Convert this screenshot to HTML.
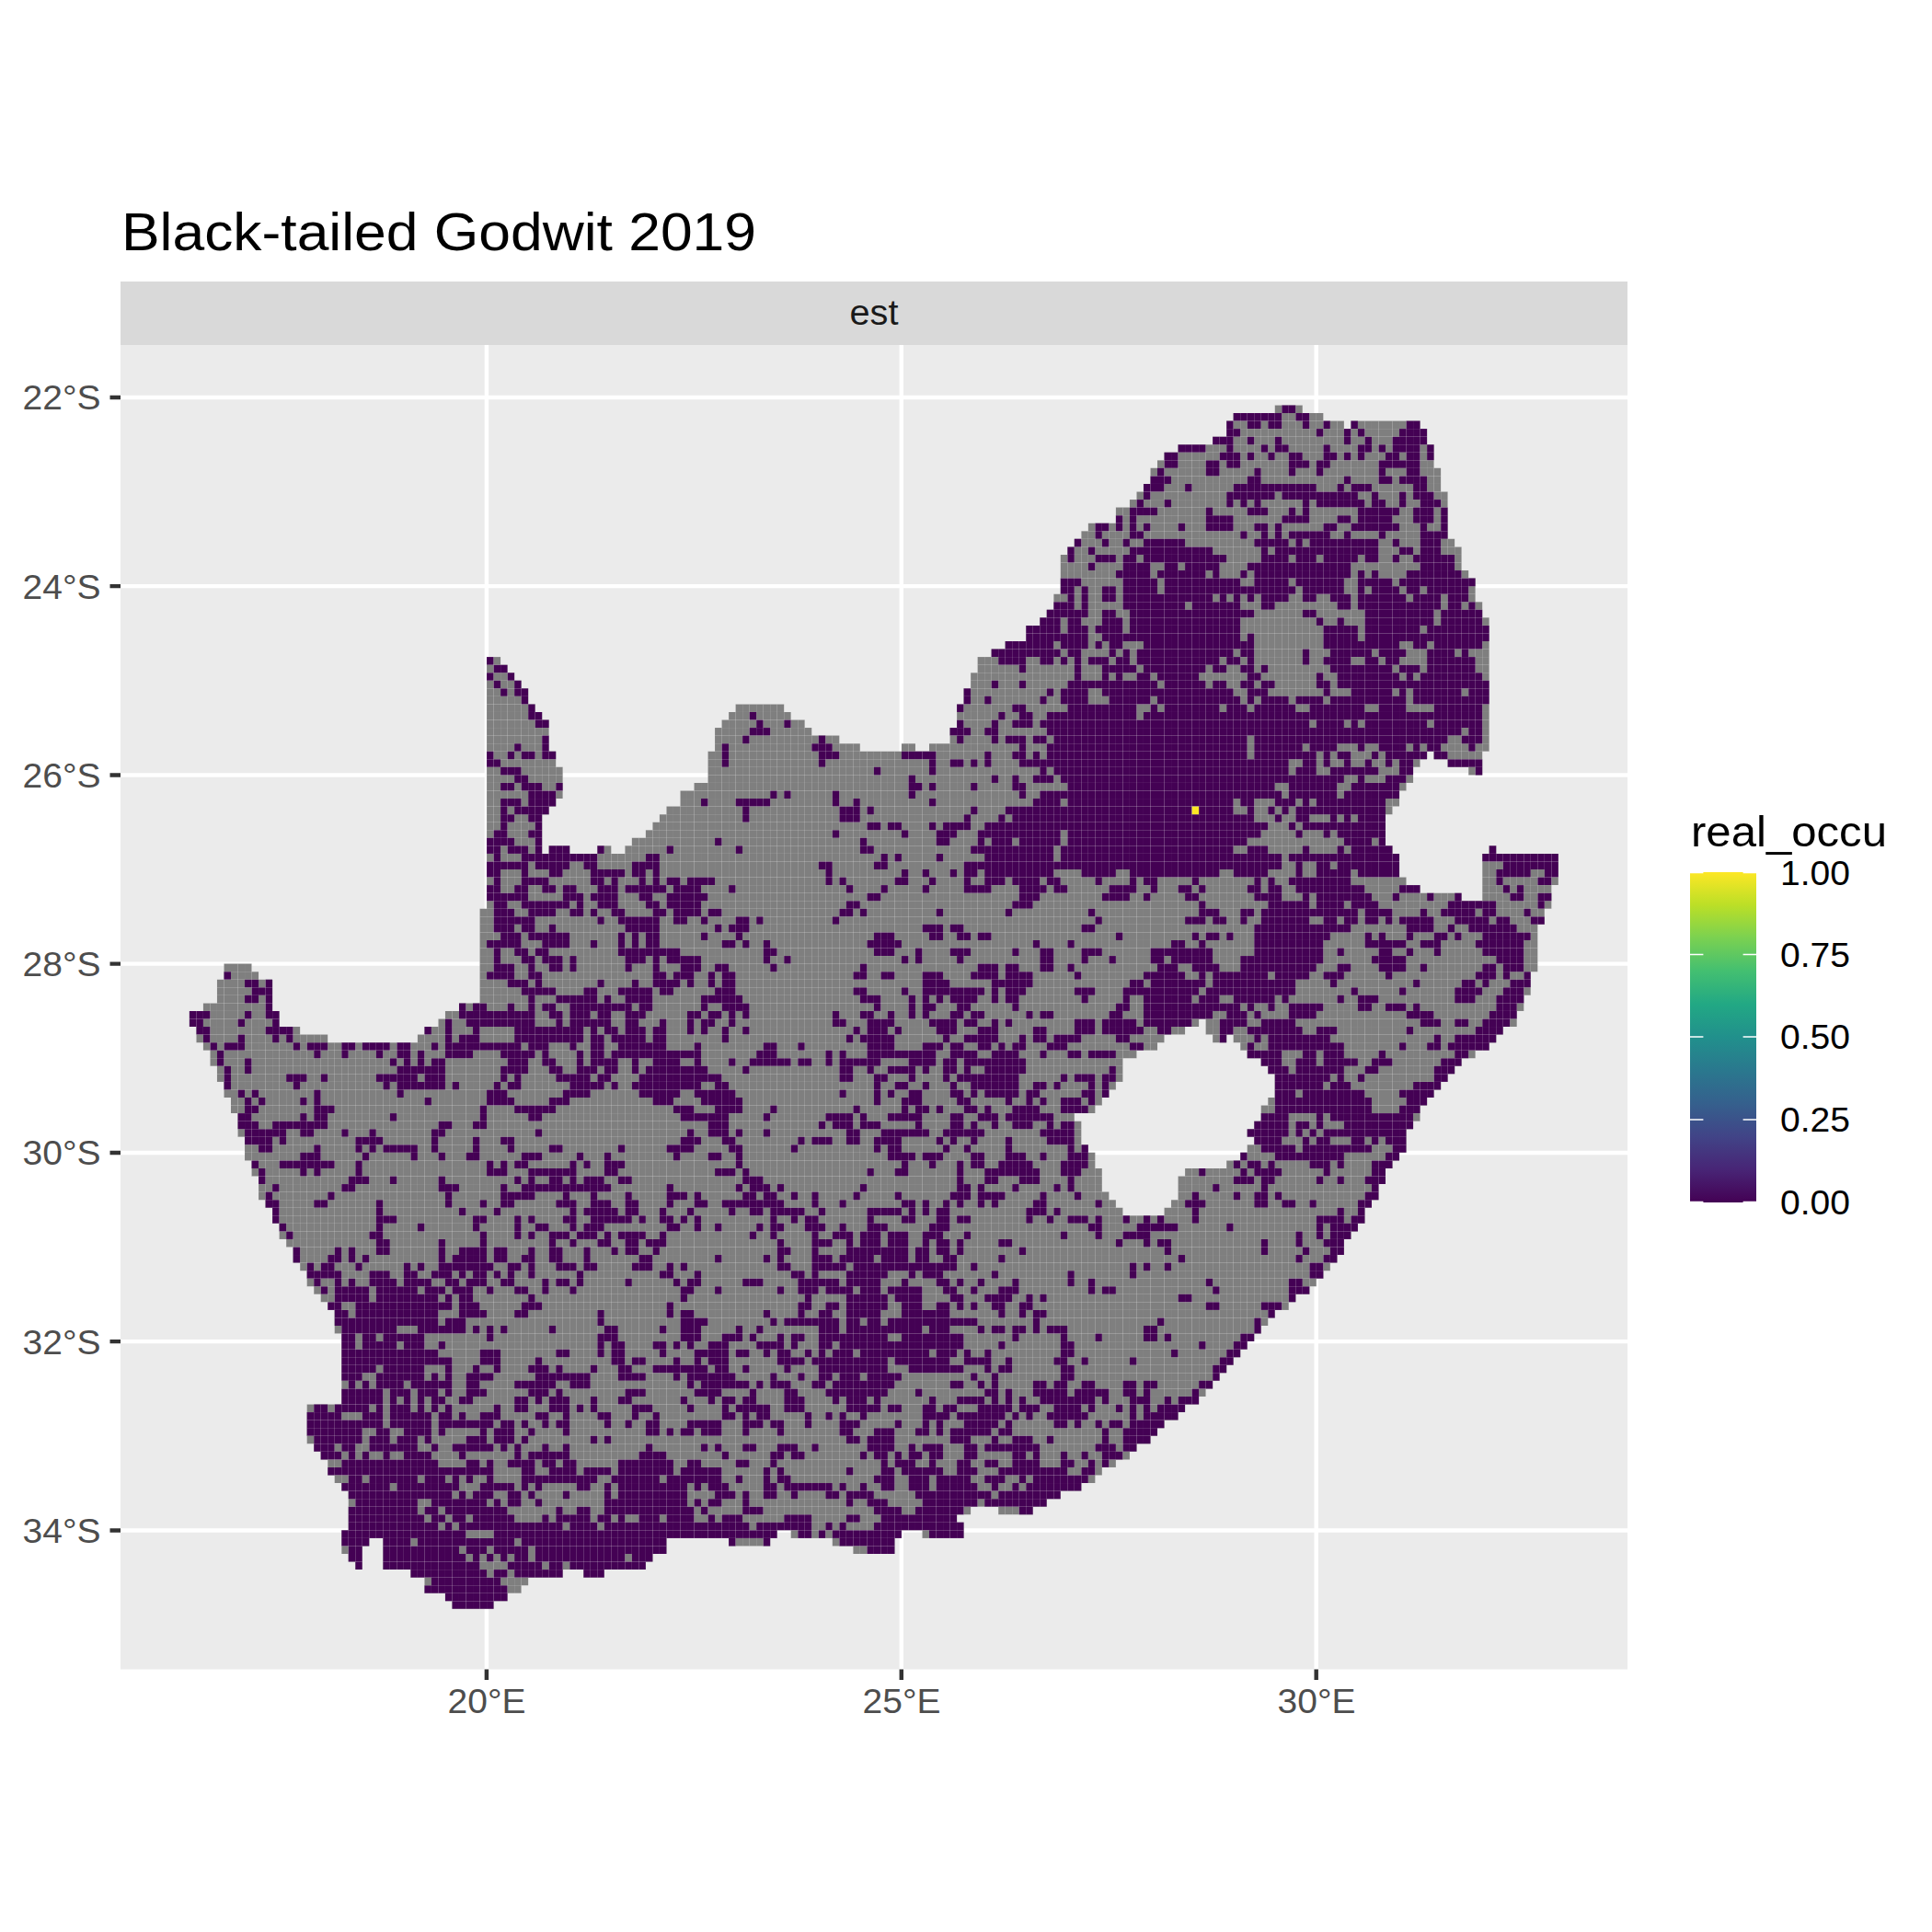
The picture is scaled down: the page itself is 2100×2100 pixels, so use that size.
<!DOCTYPE html>
<html><head><meta charset="utf-8"><title>Black-tailed Godwit 2019</title>
<style>
html,body{margin:0;padding:0;background:#fff;}
body{width:2100px;height:2100px;overflow:hidden;font-family:"Liberation Sans",sans-serif;}
svg{display:block;}
text{font-family:"Liberation Sans",sans-serif;}
</style></head><body>
<svg width="2100" height="2100" viewBox="0 0 2100 2100">
<defs>
<linearGradient id="vir" x1="0" y1="1" x2="0" y2="0">
<stop offset="0" stop-color="#440154"/><stop offset="0.1" stop-color="#482576"/><stop offset="0.2" stop-color="#414487"/><stop offset="0.3" stop-color="#35608D"/><stop offset="0.4" stop-color="#2A788E"/><stop offset="0.5" stop-color="#21908C"/><stop offset="0.6" stop-color="#22A884"/><stop offset="0.7" stop-color="#43BF71"/><stop offset="0.8" stop-color="#7AD151"/><stop offset="0.9" stop-color="#BBDF27"/><stop offset="1" stop-color="#FDE725"/>
</linearGradient>
<clipPath id="silclip"><path transform="translate(78.150 226.660) scale(7.51500 8.55167)" d="M174 25h4v1h-4zM168 26h13v1h-13zM167 27h17v1h-17zM185 27h10v1h-10zM167 28h29v1h-29zM165 29h31v1h-31zM160 30h37v1h-37zM158 31h39v1h-39zM157 32h40v1h-40zM156 33h42v1h-42zM156 34h42v1h-42zM155 35h43v1h-43zM154 36h45v1h-45zM153 37h46v1h-46zM151 38h48v1h-48zM151 39h48v1h-48zM147 40h52v1h-52zM146 41h53v1h-53zM145 42h55v1h-55zM144 43h57v1h-57zM143 44h58v1h-58zM143 45h58v1h-58zM143 46h59v1h-59zM143 47h60v1h-60zM143 48h60v1h-60zM142 49h61v1h-61zM142 50h62v1h-62zM141 51h63v1h-63zM140 52h65v1h-65zM138 53h67v1h-67zM138 54h67v1h-67zM135 55h70v1h-70zM133 56h72v1h-72zM60 57h2v1h-2zM131 57h74v1h-74zM60 58h3v1h-3zM131 58h74v1h-74zM60 59h4v1h-4zM130 59h75v1h-75zM60 60h5v1h-5zM130 60h75v1h-75zM60 61h6v1h-6zM129 61h76v1h-76zM60 62h6v1h-6zM129 62h76v1h-76zM60 63h7v1h-7zM96 63h7v1h-7zM128 63h77v1h-77zM60 64h8v1h-8zM95 64h9v1h-9zM128 64h77v1h-77zM60 65h9v1h-9zM94 65h12v1h-12zM128 65h77v1h-77zM60 66h9v1h-9zM93 66h14v1h-14zM127 66h78v1h-78zM60 67h9v1h-9zM93 67h18v1h-18zM127 67h78v1h-78zM60 68h9v1h-9zM93 68h21v1h-21zM120 68h2v1h-2zM124 68h81v1h-81zM60 69h10v1h-10zM92 69h104v1h-104zM197 69h7v1h-7zM60 70h10v1h-10zM92 70h103v1h-103zM199 70h5v1h-5zM60 71h11v1h-11zM92 71h102v1h-102zM202 71h2v1h-2zM60 72h11v1h-11zM92 72h102v1h-102zM60 73h11v1h-11zM90 73h103v1h-103zM60 74h11v1h-11zM88 74h104v1h-104zM60 75h10v1h-10zM88 75h104v1h-104zM60 76h9v1h-9zM86 76h105v1h-105zM60 77h8v1h-8zM85 77h105v1h-105zM60 78h8v1h-8zM84 78h106v1h-106zM60 79h8v1h-8zM83 79h107v1h-107zM60 80h8v1h-8zM81 80h109v1h-109zM60 81h8v1h-8zM69 81h3v1h-3zM76 81h2v1h-2zM80 81h111v1h-111zM205 81h1v1h-1zM60 82h132v1h-132zM204 82h11v1h-11zM60 83h132v1h-132zM204 83h11v1h-11zM60 84h132v1h-132zM204 84h11v1h-11zM60 85h133v1h-133zM204 85h11v1h-11zM60 86h135v1h-135zM204 86h10v1h-10zM60 87h141v1h-141zM204 87h10v1h-10zM60 88h154v1h-154zM59 89h154v1h-154zM59 90h154v1h-154zM59 91h153v1h-153zM59 92h153v1h-153zM59 93h153v1h-153zM59 94h153v1h-153zM59 95h153v1h-153zM22 96h4v1h-4zM59 96h153v1h-153zM22 97h5v1h-5zM59 97h152v1h-152zM21 98h8v1h-8zM59 98h152v1h-152zM21 99h8v1h-8zM59 99h152v1h-152zM21 100h8v1h-8zM59 100h151v1h-151zM19 101h10v1h-10zM56 101h154v1h-154zM17 102h13v1h-13zM54 102h155v1h-155zM17 103h13v1h-13zM53 103h110v1h-110zM164 103h45v1h-45zM18 104h15v1h-15zM51 104h110v1h-110zM164 104h43v1h-43zM18 105h19v1h-19zM50 105h108v1h-108zM165 105h2v1h-2zM168 105h38v1h-38zM19 106h138v1h-138zM169 106h36v1h-36zM20 107h134v1h-134zM170 107h33v1h-33zM20 108h132v1h-132zM172 108h29v1h-29zM21 109h131v1h-131zM173 109h27v1h-27zM21 110h131v1h-131zM174 110h25v1h-25zM22 111h129v1h-129zM174 111h24v1h-24zM22 112h128v1h-128zM174 112h23v1h-23zM23 113h126v1h-126zM173 113h23v1h-23zM23 114h125v1h-125zM172 114h23v1h-23zM24 115h121v1h-121zM172 115h23v1h-23zM24 116h122v1h-122zM171 116h23v1h-23zM24 117h122v1h-122zM170 117h23v1h-23zM25 118h121v1h-121zM171 118h22v1h-22zM25 119h122v1h-122zM170 119h23v1h-23zM25 120h123v1h-123zM169 120h23v1h-23zM26 121h122v1h-122zM167 121h24v1h-24zM26 122h123v1h-123zM161 122h29v1h-29zM27 123h122v1h-122zM160 123h30v1h-30zM27 124h122v1h-122zM160 124h29v1h-29zM27 125h123v1h-123zM160 125h29v1h-29zM28 126h123v1h-123zM159 126h29v1h-29zM29 127h123v1h-123zM158 127h29v1h-29zM29 128h158v1h-158zM30 129h156v1h-156zM30 130h155v1h-155zM31 131h153v1h-153zM32 132h152v1h-152zM32 133h151v1h-151zM33 134h149v1h-149zM34 135h147v1h-147zM34 136h146v1h-146zM35 137h144v1h-144zM36 138h141v1h-141zM37 139h139v1h-139zM38 140h136v1h-136zM38 141h135v1h-135zM38 142h134v1h-134zM39 143h132v1h-132zM39 144h131v1h-131zM39 145h130v1h-130zM39 146h129v1h-129zM39 147h128v1h-128zM39 148h127v1h-127zM39 149h126v1h-126zM39 150h125v1h-125zM39 151h124v1h-124zM34 152h127v1h-127zM34 153h126v1h-126zM34 154h124v1h-124zM34 155h123v1h-123zM34 156h122v1h-122zM35 157h119v1h-119zM36 158h117v1h-117zM37 159h114v1h-114zM37 160h112v1h-112zM38 161h110v1h-110zM39 162h107v1h-107zM40 163h103v1h-103zM40 164h101v1h-101zM40 165h90v1h-90zM134 165h5v1h-5zM40 166h88v1h-88zM40 167h89v1h-89zM39 168h63v1h-63zM104 168h16v1h-16zM123 168h6v1h-6zM39 169h4v1h-4zM45 169h41v1h-41zM95 169h6v1h-6zM110 169h9v1h-9zM39 170h3v1h-3zM45 170h41v1h-41zM113 170h6v1h-6zM40 171h2v1h-2zM45 171h39v1h-39zM41 172h1v1h-1zM45 172h38v1h-38zM49 173h22v1h-22zM74 173h3v1h-3zM51 174h15v1h-15zM51 175h14v1h-14zM54 176h9v1h-9zM55 177h6v1h-6z"/></clipPath>
</defs>
<rect x="0" y="0" width="2100" height="2100" fill="#FFFFFF"/>
<!-- title -->
<text id="title" x="132" y="272" font-size="57" fill="#000" textLength="690" lengthAdjust="spacingAndGlyphs">Black-tailed Godwit 2019</text>
<!-- strip -->
<rect x="131" y="306" width="1638" height="69" fill="#D9D9D9"/>
<text id="strip" x="950" y="352.5" font-size="38" fill="#1A1A1A" text-anchor="middle" textLength="53" lengthAdjust="spacingAndGlyphs">est</text>
<!-- panel -->
<rect x="131" y="375" width="1638" height="1439.5" fill="#EBEBEB"/>
<g stroke="#FFFFFF" stroke-width="4.45" fill="none">
<path d="M528.9 375V1814.5M979.8 375V1814.5M1430.7 375V1814.5"/>
<path d="M131 431.9H1769M131 637.1H1769M131 842.4H1769M131 1047.6H1769M131 1252.9H1769M131 1458.1H1769M131 1663.4H1769"/>
</g>
<!-- map -->
<g transform="translate(78.150 226.660) scale(7.51500 8.55167)">
<path fill="#7F7F7F" d="M174 25h4v1h-4zM168 26h13v1h-13zM167 27h17v1h-17zM185 27h10v1h-10zM167 28h29v1h-29zM165 29h31v1h-31zM160 30h37v1h-37zM158 31h39v1h-39zM157 32h40v1h-40zM156 33h42v1h-42zM156 34h42v1h-42zM155 35h43v1h-43zM154 36h45v1h-45zM153 37h46v1h-46zM151 38h48v1h-48zM151 39h48v1h-48zM147 40h52v1h-52zM146 41h53v1h-53zM145 42h55v1h-55zM144 43h57v1h-57zM143 44h58v1h-58zM143 45h58v1h-58zM143 46h59v1h-59zM143 47h60v1h-60zM143 48h60v1h-60zM142 49h61v1h-61zM142 50h62v1h-62zM141 51h63v1h-63zM140 52h65v1h-65zM138 53h67v1h-67zM138 54h67v1h-67zM135 55h70v1h-70zM133 56h72v1h-72zM60 57h2v1h-2zM131 57h74v1h-74zM60 58h3v1h-3zM131 58h74v1h-74zM60 59h4v1h-4zM130 59h75v1h-75zM60 60h5v1h-5zM130 60h75v1h-75zM60 61h6v1h-6zM129 61h76v1h-76zM60 62h6v1h-6zM129 62h76v1h-76zM60 63h7v1h-7zM96 63h7v1h-7zM128 63h77v1h-77zM60 64h8v1h-8zM95 64h9v1h-9zM128 64h77v1h-77zM60 65h9v1h-9zM94 65h12v1h-12zM128 65h77v1h-77zM60 66h9v1h-9zM93 66h14v1h-14zM127 66h78v1h-78zM60 67h9v1h-9zM93 67h18v1h-18zM127 67h78v1h-78zM60 68h9v1h-9zM93 68h21v1h-21zM120 68h2v1h-2zM124 68h81v1h-81zM60 69h10v1h-10zM92 69h104v1h-104zM197 69h7v1h-7zM60 70h10v1h-10zM92 70h103v1h-103zM199 70h5v1h-5zM60 71h11v1h-11zM92 71h102v1h-102zM202 71h2v1h-2zM60 72h11v1h-11zM92 72h102v1h-102zM60 73h11v1h-11zM90 73h103v1h-103zM60 74h11v1h-11zM88 74h104v1h-104zM60 75h10v1h-10zM88 75h104v1h-104zM60 76h9v1h-9zM86 76h105v1h-105zM60 77h8v1h-8zM85 77h105v1h-105zM60 78h8v1h-8zM84 78h106v1h-106zM60 79h8v1h-8zM83 79h107v1h-107zM60 80h8v1h-8zM81 80h109v1h-109zM60 81h8v1h-8zM69 81h3v1h-3zM76 81h2v1h-2zM80 81h111v1h-111zM205 81h1v1h-1zM60 82h132v1h-132zM204 82h11v1h-11zM60 83h132v1h-132zM204 83h11v1h-11zM60 84h132v1h-132zM204 84h11v1h-11zM60 85h133v1h-133zM204 85h11v1h-11zM60 86h135v1h-135zM204 86h10v1h-10zM60 87h141v1h-141zM204 87h10v1h-10zM60 88h154v1h-154zM59 89h154v1h-154zM59 90h154v1h-154zM59 91h153v1h-153zM59 92h153v1h-153zM59 93h153v1h-153zM59 94h153v1h-153zM59 95h153v1h-153zM22 96h4v1h-4zM59 96h153v1h-153zM22 97h5v1h-5zM59 97h152v1h-152zM21 98h8v1h-8zM59 98h152v1h-152zM21 99h8v1h-8zM59 99h152v1h-152zM21 100h8v1h-8zM59 100h151v1h-151zM19 101h10v1h-10zM56 101h154v1h-154zM17 102h13v1h-13zM54 102h155v1h-155zM17 103h13v1h-13zM53 103h110v1h-110zM164 103h45v1h-45zM18 104h15v1h-15zM51 104h110v1h-110zM164 104h43v1h-43zM18 105h19v1h-19zM50 105h108v1h-108zM165 105h2v1h-2zM168 105h38v1h-38zM19 106h138v1h-138zM169 106h36v1h-36zM20 107h134v1h-134zM170 107h33v1h-33zM20 108h132v1h-132zM172 108h29v1h-29zM21 109h131v1h-131zM173 109h27v1h-27zM21 110h131v1h-131zM174 110h25v1h-25zM22 111h129v1h-129zM174 111h24v1h-24zM22 112h128v1h-128zM174 112h23v1h-23zM23 113h126v1h-126zM173 113h23v1h-23zM23 114h125v1h-125zM172 114h23v1h-23zM24 115h121v1h-121zM172 115h23v1h-23zM24 116h122v1h-122zM171 116h23v1h-23zM24 117h122v1h-122zM170 117h23v1h-23zM25 118h121v1h-121zM171 118h22v1h-22zM25 119h122v1h-122zM170 119h23v1h-23zM25 120h123v1h-123zM169 120h23v1h-23zM26 121h122v1h-122zM167 121h24v1h-24zM26 122h123v1h-123zM161 122h29v1h-29zM27 123h122v1h-122zM160 123h30v1h-30zM27 124h122v1h-122zM160 124h29v1h-29zM27 125h123v1h-123zM160 125h29v1h-29zM28 126h123v1h-123zM159 126h29v1h-29zM29 127h123v1h-123zM158 127h29v1h-29zM29 128h158v1h-158zM30 129h156v1h-156zM30 130h155v1h-155zM31 131h153v1h-153zM32 132h152v1h-152zM32 133h151v1h-151zM33 134h149v1h-149zM34 135h147v1h-147zM34 136h146v1h-146zM35 137h144v1h-144zM36 138h141v1h-141zM37 139h139v1h-139zM38 140h136v1h-136zM38 141h135v1h-135zM38 142h134v1h-134zM39 143h132v1h-132zM39 144h131v1h-131zM39 145h130v1h-130zM39 146h129v1h-129zM39 147h128v1h-128zM39 148h127v1h-127zM39 149h126v1h-126zM39 150h125v1h-125zM39 151h124v1h-124zM34 152h127v1h-127zM34 153h126v1h-126zM34 154h124v1h-124zM34 155h123v1h-123zM34 156h122v1h-122zM35 157h119v1h-119zM36 158h117v1h-117zM37 159h114v1h-114zM37 160h112v1h-112zM38 161h110v1h-110zM39 162h107v1h-107zM40 163h103v1h-103zM40 164h101v1h-101zM40 165h90v1h-90zM134 165h5v1h-5zM40 166h88v1h-88zM40 167h89v1h-89zM39 168h63v1h-63zM104 168h16v1h-16zM123 168h6v1h-6zM39 169h4v1h-4zM45 169h41v1h-41zM95 169h6v1h-6zM110 169h9v1h-9zM39 170h3v1h-3zM45 170h41v1h-41zM113 170h6v1h-6zM40 171h2v1h-2zM45 171h39v1h-39zM41 172h1v1h-1zM45 172h38v1h-38zM49 173h22v1h-22zM74 173h3v1h-3zM51 174h15v1h-15zM51 175h14v1h-14zM54 176h9v1h-9zM55 177h6v1h-6z"/>
<path fill="#440154" d="M175 25h2v1h-2zM168 26h7v1h-7zM177 26h2v1h-2zM167 27h1v1h-1zM170 27h2v1h-2zM173 27h2v1h-2zM178 27h1v1h-1zM181 27h1v1h-1zM185 27h1v1h-1zM193 27h2v1h-2zM167 28h2v1h-2zM180 28h1v1h-1zM184 28h1v1h-1zM186 28h1v1h-1zM192 28h4v1h-4zM165 29h3v1h-3zM170 29h1v1h-1zM174 29h1v1h-1zM184 29h1v1h-1zM187 29h1v1h-1zM191 29h5v1h-5zM160 30h4v1h-4zM167 30h1v1h-1zM172 30h1v1h-1zM174 30h2v1h-2zM181 30h1v1h-1zM186 30h2v1h-2zM189 30h1v1h-1zM191 30h4v1h-4zM196 30h1v1h-1zM158 31h2v1h-2zM166 31h3v1h-3zM170 31h1v1h-1zM173 31h1v1h-1zM176 31h2v1h-2zM181 31h2v1h-2zM184 31h1v1h-1zM186 31h1v1h-1zM190 31h2v1h-2zM193 31h2v1h-2zM196 31h1v1h-1zM158 32h2v1h-2zM164 32h2v1h-2zM167 32h2v1h-2zM176 32h3v1h-3zM180 32h2v1h-2zM189 32h6v1h-6zM157 33h1v1h-1zM164 33h2v1h-2zM171 33h1v1h-1zM176 33h1v1h-1zM180 33h1v1h-1zM189 33h1v1h-1zM193 33h2v1h-2zM156 34h3v1h-3zM170 34h2v1h-2zM184 34h1v1h-1zM189 34h2v1h-2zM192 34h4v1h-4zM155 35h3v1h-3zM161 35h1v1h-1zM168 35h12v1h-12zM183 35h1v1h-1zM185 35h3v1h-3zM194 35h2v1h-2zM155 36h1v1h-1zM167 36h7v1h-7zM175 36h11v1h-11zM188 36h1v1h-1zM192 36h1v1h-1zM194 36h3v1h-3zM154 37h1v1h-1zM158 37h1v1h-1zM167 37h1v1h-1zM169 37h1v1h-1zM171 37h1v1h-1zM178 37h1v1h-1zM180 37h7v1h-7zM188 37h2v1h-2zM192 37h1v1h-1zM195 37h3v1h-3zM153 38h4v1h-4zM164 38h1v1h-1zM170 38h3v1h-3zM176 38h1v1h-1zM178 38h1v1h-1zM186 38h6v1h-6zM194 38h3v1h-3zM198 38h1v1h-1zM151 39h1v1h-1zM153 39h1v1h-1zM164 39h4v1h-4zM175 39h4v1h-4zM183 39h2v1h-2zM186 39h5v1h-5zM194 39h3v1h-3zM198 39h1v1h-1zM148 40h2v1h-2zM151 40h1v1h-1zM153 40h1v1h-1zM155 40h1v1h-1zM160 40h1v1h-1zM164 40h4v1h-4zM171 40h2v1h-2zM174 40h1v1h-1zM181 40h2v1h-2zM185 40h7v1h-7zM195 40h1v1h-1zM198 40h1v1h-1zM148 41h1v1h-1zM153 41h2v1h-2zM169 41h1v1h-1zM172 41h1v1h-1zM174 41h1v1h-1zM176 41h6v1h-6zM184 41h1v1h-1zM189 41h1v1h-1zM195 41h4v1h-4zM145 42h1v1h-1zM149 42h1v1h-1zM152 42h1v1h-1zM155 42h6v1h-6zM171 42h5v1h-5zM177 42h1v1h-1zM179 42h10v1h-10zM191 42h1v1h-1zM195 42h3v1h-3zM144 43h1v1h-1zM147 43h1v1h-1zM153 43h12v1h-12zM172 43h1v1h-1zM174 43h15v1h-15zM192 43h2v1h-2zM195 43h3v1h-3zM144 44h1v1h-1zM148 44h3v1h-3zM152 44h2v1h-2zM155 44h12v1h-12zM172 44h4v1h-4zM177 44h3v1h-3zM181 44h5v1h-5zM187 44h2v1h-2zM191 44h1v1h-1zM194 44h6v1h-6zM147 45h1v1h-1zM152 45h4v1h-4zM158 45h2v1h-2zM161 45h5v1h-5zM170 45h15v1h-15zM195 45h5v1h-5zM151 46h5v1h-5zM157 46h7v1h-7zM165 46h1v1h-1zM169 46h1v1h-1zM171 46h14v1h-14zM186 46h1v1h-1zM188 46h1v1h-1zM193 46h8v1h-8zM143 47h3v1h-3zM152 47h5v1h-5zM158 47h11v1h-11zM171 47h5v1h-5zM177 47h7v1h-7zM186 47h5v1h-5zM192 47h11v1h-11zM143 48h2v1h-2zM146 48h1v1h-1zM149 48h2v1h-2zM152 48h5v1h-5zM158 48h19v1h-19zM178 48h6v1h-6zM186 48h1v1h-1zM188 48h4v1h-4zM193 48h2v1h-2zM196 48h6v1h-6zM144 49h1v1h-1zM146 49h1v1h-1zM149 49h2v1h-2zM152 49h13v1h-13zM166 49h1v1h-1zM168 49h1v1h-1zM170 49h1v1h-1zM172 49h4v1h-4zM178 49h2v1h-2zM182 49h3v1h-3zM186 49h7v1h-7zM194 49h4v1h-4zM199 49h3v1h-3zM142 50h3v1h-3zM146 50h1v1h-1zM152 50h9v1h-9zM162 50h7v1h-7zM172 50h2v1h-2zM183 50h2v1h-2zM186 50h12v1h-12zM199 50h2v1h-2zM202 50h1v1h-1zM141 51h6v1h-6zM149 51h2v1h-2zM153 51h18v1h-18zM178 51h2v1h-2zM187 51h10v1h-10zM198 51h6v1h-6zM140 52h3v1h-3zM144 52h2v1h-2zM149 52h3v1h-3zM153 52h16v1h-16zM180 52h1v1h-1zM183 52h1v1h-1zM187 52h10v1h-10zM198 52h6v1h-6zM138 53h5v1h-5zM144 53h3v1h-3zM148 53h4v1h-4zM153 53h16v1h-16zM181 53h5v1h-5zM187 53h8v1h-8zM196 53h9v1h-9zM138 54h9v1h-9zM149 54h20v1h-20zM170 54h1v1h-1zM181 54h5v1h-5zM187 54h18v1h-18zM135 55h7v1h-7zM143 55h4v1h-4zM148 55h1v1h-1zM150 55h2v1h-2zM155 55h16v1h-16zM181 55h11v1h-11zM194 55h2v1h-2zM197 55h7v1h-7zM133 56h10v1h-10zM144 56h2v1h-2zM150 56h1v1h-1zM152 56h1v1h-1zM154 56h14v1h-14zM169 56h2v1h-2zM178 56h1v1h-1zM182 56h6v1h-6zM189 56h4v1h-4zM196 56h4v1h-4zM201 56h1v1h-1zM60 57h1v1h-1zM134 57h4v1h-4zM140 57h2v1h-2zM143 57h1v1h-1zM145 57h1v1h-1zM147 57h3v1h-3zM151 57h2v1h-2zM154 57h12v1h-12zM167 57h2v1h-2zM170 57h1v1h-1zM178 57h1v1h-1zM181 57h4v1h-4zM187 57h2v1h-2zM190 57h2v1h-2zM196 57h7v1h-7zM61 58h2v1h-2zM137 58h1v1h-1zM145 58h1v1h-1zM149 58h5v1h-5zM155 58h9v1h-9zM165 58h2v1h-2zM169 58h2v1h-2zM172 58h1v1h-1zM182 58h9v1h-9zM192 58h3v1h-3zM196 58h7v1h-7zM60 59h1v1h-1zM63 59h1v1h-1zM145 59h1v1h-1zM149 59h1v1h-1zM151 59h1v1h-1zM154 59h2v1h-2zM157 59h6v1h-6zM170 59h2v1h-2zM180 59h1v1h-1zM183 59h9v1h-9zM193 59h1v1h-1zM195 59h9v1h-9zM61 60h1v1h-1zM64 60h1v1h-1zM133 60h1v1h-1zM137 60h1v1h-1zM144 60h13v1h-13zM158 60h6v1h-6zM165 60h2v1h-2zM169 60h2v1h-2zM172 60h2v1h-2zM180 60h2v1h-2zM183 60h22v1h-22zM62 61h1v1h-1zM64 61h2v1h-2zM129 61h1v1h-1zM141 61h1v1h-1zM143 61h4v1h-4zM149 61h19v1h-19zM170 61h3v1h-3zM181 61h1v1h-1zM185 61h6v1h-6zM192 61h1v1h-1zM194 61h7v1h-7zM202 61h3v1h-3zM65 62h1v1h-1zM129 62h1v1h-1zM132 62h1v1h-1zM140 62h1v1h-1zM143 62h4v1h-4zM150 62h6v1h-6zM157 62h12v1h-12zM170 62h1v1h-1zM172 62h4v1h-4zM177 62h4v1h-4zM182 62h11v1h-11zM194 62h11v1h-11zM66 63h1v1h-1zM128 63h1v1h-1zM136 63h2v1h-2zM144 63h10v1h-10zM156 63h1v1h-1zM158 63h8v1h-8zM167 63h3v1h-3zM171 63h6v1h-6zM179 63h8v1h-8zM189 63h4v1h-4zM197 63h7v1h-7zM66 64h2v1h-2zM98 64h1v1h-1zM134 64h1v1h-1zM137 64h2v1h-2zM141 64h13v1h-13zM155 64h49v1h-49zM67 65h2v1h-2zM99 65h1v1h-1zM103 65h1v1h-1zM128 65h1v1h-1zM133 65h1v1h-1zM136 65h3v1h-3zM140 65h39v1h-39zM180 65h4v1h-4zM185 65h1v1h-1zM187 65h9v1h-9zM197 65h7v1h-7zM98 66h3v1h-3zM127 66h3v1h-3zM132 66h2v1h-2zM141 66h60v1h-60zM202 66h2v1h-2zM68 67h1v1h-1zM97 67h1v1h-1zM108 67h1v1h-1zM128 67h1v1h-1zM133 67h1v1h-1zM135 67h3v1h-3zM139 67h2v1h-2zM142 67h28v1h-28zM171 67h28v1h-28zM201 67h3v1h-3zM64 68h1v1h-1zM68 68h1v1h-1zM94 68h1v1h-1zM107 68h3v1h-3zM137 68h1v1h-1zM141 68h29v1h-29zM171 68h7v1h-7zM179 68h4v1h-4zM186 68h1v1h-1zM189 68h4v1h-4zM194 68h1v1h-1zM196 68h2v1h-2zM202 68h1v1h-1zM60 69h1v1h-1zM63 69h1v1h-1zM65 69h2v1h-2zM68 69h2v1h-2zM94 69h1v1h-1zM108 69h3v1h-3zM120 69h5v1h-5zM132 69h1v1h-1zM136 69h2v1h-2zM139 69h1v1h-1zM141 69h29v1h-29zM171 69h9v1h-9zM181 69h1v1h-1zM183 69h2v1h-2zM188 69h1v1h-1zM190 69h6v1h-6zM197 69h2v1h-2zM60 70h2v1h-2zM94 70h1v1h-1zM108 70h1v1h-1zM124 70h1v1h-1zM127 70h2v1h-2zM130 70h1v1h-1zM132 70h1v1h-1zM137 70h39v1h-39zM178 70h2v1h-2zM181 70h1v1h-1zM184 70h1v1h-1zM187 70h1v1h-1zM190 70h1v1h-1zM192 70h2v1h-2zM199 70h5v1h-5zM62 71h3v1h-3zM116 71h1v1h-1zM124 71h1v1h-1zM140 71h1v1h-1zM142 71h34v1h-34zM177 71h3v1h-3zM182 71h7v1h-7zM192 71h2v1h-2zM203 71h1v1h-1zM64 72h2v1h-2zM121 72h1v1h-1zM133 72h1v1h-1zM136 72h1v1h-1zM139 72h3v1h-3zM143 72h41v1h-41zM186 72h1v1h-1zM190 72h3v1h-3zM62 73h2v1h-2zM65 73h3v1h-3zM70 73h1v1h-1zM121 73h2v1h-2zM124 73h1v1h-1zM130 73h1v1h-1zM136 73h2v1h-2zM144 73h30v1h-30zM176 73h7v1h-7zM185 73h7v1h-7zM66 74h4v1h-4zM101 74h1v1h-1zM103 74h1v1h-1zM110 74h1v1h-1zM121 74h1v1h-1zM137 74h1v1h-1zM140 74h35v1h-35zM176 74h7v1h-7zM184 74h8v1h-8zM62 75h3v1h-3zM66 75h4v1h-4zM91 75h1v1h-1zM96 75h5v1h-5zM110 75h1v1h-1zM113 75h1v1h-1zM124 75h1v1h-1zM139 75h4v1h-4zM144 75h24v1h-24zM169 75h2v1h-2zM174 75h3v1h-3zM178 75h1v1h-1zM180 75h10v1h-10zM62 76h1v1h-1zM64 76h5v1h-5zM97 76h1v1h-1zM111 76h3v1h-3zM115 76h1v1h-1zM130 76h1v1h-1zM135 76h27v1h-27zM163 76h5v1h-5zM170 76h1v1h-1zM173 76h1v1h-1zM175 76h1v1h-1zM177 76h13v1h-13zM62 77h2v1h-2zM66 77h2v1h-2zM97 77h1v1h-1zM111 77h3v1h-3zM129 77h1v1h-1zM134 77h1v1h-1zM136 77h35v1h-35zM174 77h1v1h-1zM177 77h2v1h-2zM182 77h1v1h-1zM184 77h1v1h-1zM186 77h4v1h-4zM62 78h1v1h-1zM67 78h1v1h-1zM115 78h2v1h-2zM118 78h2v1h-2zM124 78h1v1h-1zM126 78h4v1h-4zM132 78h41v1h-41zM176 78h1v1h-1zM178 78h12v1h-12zM61 79h2v1h-2zM66 79h2v1h-2zM110 79h1v1h-1zM120 79h1v1h-1zM125 79h3v1h-3zM131 79h12v1h-12zM144 79h28v1h-28zM177 79h1v1h-1zM181 79h1v1h-1zM183 79h7v1h-7zM60 80h4v1h-4zM67 80h1v1h-1zM93 80h1v1h-1zM114 80h1v1h-1zM125 80h2v1h-2zM131 80h1v1h-1zM133 80h3v1h-3zM137 80h6v1h-6zM144 80h26v1h-26zM184 80h4v1h-4zM189 80h1v1h-1zM60 81h2v1h-2zM63 81h3v1h-3zM67 81h1v1h-1zM69 81h3v1h-3zM76 81h1v1h-1zM86 81h1v1h-1zM96 81h1v1h-1zM114 81h2v1h-2zM130 81h12v1h-12zM143 81h25v1h-25zM170 81h3v1h-3zM178 81h1v1h-1zM183 81h1v1h-1zM185 81h6v1h-6zM205 81h1v1h-1zM61 82h1v1h-1zM65 82h11v1h-11zM83 82h2v1h-2zM117 82h1v1h-1zM119 82h1v1h-1zM125 82h1v1h-1zM132 82h10v1h-10zM143 82h32v1h-32zM176 82h16v1h-16zM204 82h11v1h-11zM60 83h6v1h-6zM67 83h5v1h-5zM74 83h2v1h-2zM81 83h4v1h-4zM108 83h2v1h-2zM116 83h2v1h-2zM129 83h46v1h-46zM177 83h1v1h-1zM180 83h2v1h-2zM183 83h9v1h-9zM207 83h8v1h-8zM60 84h2v1h-2zM65 84h1v1h-1zM69 84h2v1h-2zM75 84h5v1h-5zM81 84h2v1h-2zM84 84h1v1h-1zM109 84h1v1h-1zM120 84h1v1h-1zM123 84h1v1h-1zM127 84h1v1h-1zM129 84h2v1h-2zM132 84h10v1h-10zM146 84h5v1h-5zM153 84h13v1h-13zM168 84h5v1h-5zM177 84h1v1h-1zM180 84h5v1h-5zM186 84h6v1h-6zM206 84h5v1h-5zM213 84h2v1h-2zM61 85h1v1h-1zM65 85h4v1h-4zM75 85h2v1h-2zM78 85h1v1h-1zM82 85h1v1h-1zM84 85h1v1h-1zM86 85h2v1h-2zM89 85h4v1h-4zM109 85h1v1h-1zM111 85h1v1h-1zM119 85h2v1h-2zM124 85h1v1h-1zM129 85h1v1h-1zM132 85h3v1h-3zM136 85h4v1h-4zM141 85h2v1h-2zM148 85h1v1h-1zM153 85h1v1h-1zM155 85h2v1h-2zM162 85h1v1h-1zM171 85h1v1h-1zM173 85h1v1h-1zM176 85h9v1h-9zM206 85h1v1h-1zM212 85h2v1h-2zM60 86h2v1h-2zM64 86h2v1h-2zM68 86h2v1h-2zM71 86h2v1h-2zM76 86h3v1h-3zM80 86h6v1h-6zM87 86h4v1h-4zM95 86h1v1h-1zM112 86h1v1h-1zM117 86h1v1h-1zM123 86h1v1h-1zM129 86h4v1h-4zM137 86h4v1h-4zM142 86h2v1h-2zM150 86h4v1h-4zM156 86h1v1h-1zM160 86h2v1h-2zM163 86h1v1h-1zM170 86h2v1h-2zM173 86h2v1h-2zM177 86h10v1h-10zM192 86h3v1h-3zM207 86h1v1h-1zM209 86h1v1h-1zM60 87h6v1h-6zM71 87h3v1h-3zM75 87h4v1h-4zM82 87h2v1h-2zM86 87h6v1h-6zM115 87h2v1h-2zM137 87h3v1h-3zM149 87h4v1h-4zM155 87h1v1h-1zM161 87h2v1h-2zM171 87h4v1h-4zM178 87h1v1h-1zM180 87h8v1h-8zM191 87h1v1h-1zM196 87h1v1h-1zM200 87h1v1h-1zM208 87h2v1h-2zM212 87h2v1h-2zM61 88h2v1h-2zM65 88h7v1h-7zM73 88h1v1h-1zM76 88h3v1h-3zM83 88h2v1h-2zM86 88h5v1h-5zM112 88h2v1h-2zM136 88h3v1h-3zM163 88h1v1h-1zM173 88h6v1h-6zM180 88h4v1h-4zM185 88h4v1h-4zM199 88h7v1h-7zM212 88h1v1h-1zM61 89h3v1h-3zM66 89h4v1h-4zM72 89h2v1h-2zM75 89h1v1h-1zM78 89h2v1h-2zM84 89h2v1h-2zM87 89h4v1h-4zM92 89h2v1h-2zM111 89h2v1h-2zM114 89h1v1h-1zM125 89h1v1h-1zM135 89h1v1h-1zM147 89h1v1h-1zM163 89h3v1h-3zM169 89h2v1h-2zM172 89h14v1h-14zM187 89h4v1h-4zM195 89h1v1h-1zM198 89h5v1h-5zM204 89h2v1h-2zM210 89h1v1h-1zM61 90h6v1h-6zM76 90h1v1h-1zM79 90h6v1h-6zM87 90h2v1h-2zM91 90h1v1h-1zM96 90h2v1h-2zM99 90h1v1h-1zM110 90h1v1h-1zM148 90h1v1h-1zM161 90h3v1h-3zM165 90h2v1h-2zM169 90h1v1h-1zM172 90h7v1h-7zM181 90h2v1h-2zM184 90h2v1h-2zM187 90h2v1h-2zM190 90h1v1h-1zM192 90h5v1h-5zM200 90h5v1h-5zM206 90h2v1h-2zM211 90h2v1h-2zM61 91h3v1h-3zM65 91h2v1h-2zM69 91h1v1h-1zM80 91h5v1h-5zM93 91h1v1h-1zM95 91h3v1h-3zM123 91h3v1h-3zM127 91h2v1h-2zM146 91h2v1h-2zM171 91h14v1h-14zM193 91h4v1h-4zM199 91h1v1h-1zM202 91h7v1h-7zM62 92h3v1h-3zM66 92h6v1h-6zM79 92h1v1h-1zM81 92h1v1h-1zM83 92h2v1h-2zM91 92h1v1h-1zM96 92h1v1h-1zM116 92h3v1h-3zM124 92h2v1h-2zM128 92h2v1h-2zM131 92h2v1h-2zM151 92h1v1h-1zM162 92h1v1h-1zM164 92h2v1h-2zM167 92h1v1h-1zM171 92h11v1h-11zM187 92h1v1h-1zM189 92h1v1h-1zM193 92h1v1h-1zM197 92h2v1h-2zM200 92h1v1h-1zM204 92h7v1h-7zM60 93h5v1h-5zM68 93h4v1h-4zM75 93h1v1h-1zM79 93h1v1h-1zM81 93h1v1h-1zM83 93h2v1h-2zM94 93h2v1h-2zM97 93h1v1h-1zM100 93h1v1h-1zM115 93h5v1h-5zM139 93h1v1h-1zM144 93h1v1h-1zM159 93h2v1h-2zM163 93h1v1h-1zM171 93h10v1h-10zM187 93h6v1h-6zM195 93h3v1h-3zM203 93h7v1h-7zM61 94h1v1h-1zM64 94h2v1h-2zM67 94h2v1h-2zM79 94h9v1h-9zM100 94h2v1h-2zM116 94h3v1h-3zM122 94h1v1h-1zM127 94h3v1h-3zM136 94h1v1h-1zM140 94h2v1h-2zM146 94h3v1h-3zM156 94h9v1h-9zM171 94h10v1h-10zM183 94h1v1h-1zM189 94h2v1h-2zM193 94h1v1h-1zM197 94h1v1h-1zM204 94h6v1h-6zM61 95h1v1h-1zM65 95h2v1h-2zM68 95h3v1h-3zM72 95h1v1h-1zM80 95h3v1h-3zM84 95h1v1h-1zM86 95h5v1h-5zM100 95h1v1h-1zM103 95h1v1h-1zM120 95h1v1h-1zM122 95h1v1h-1zM128 95h1v1h-1zM140 95h2v1h-2zM146 95h1v1h-1zM150 95h1v1h-1zM156 95h2v1h-2zM159 95h6v1h-6zM169 95h12v1h-12zM188 95h5v1h-5zM206 95h4v1h-4zM61 96h3v1h-3zM66 96h1v1h-1zM69 96h2v1h-2zM72 96h1v1h-1zM80 96h1v1h-1zM84 96h1v1h-1zM88 96h3v1h-3zM93 96h2v1h-2zM101 96h1v1h-1zM114 96h1v1h-1zM131 96h3v1h-3zM135 96h2v1h-2zM140 96h2v1h-2zM144 96h1v1h-1zM157 96h3v1h-3zM162 96h4v1h-4zM169 96h11v1h-11zM183 96h2v1h-2zM189 96h4v1h-4zM195 96h1v1h-1zM204 96h2v1h-2zM207 96h3v1h-3zM22 97h1v1h-1zM60 97h4v1h-4zM66 97h2v1h-2zM84 97h2v1h-2zM87 97h3v1h-3zM92 97h1v1h-1zM94 97h2v1h-2zM113 97h2v1h-2zM117 97h2v1h-2zM123 97h3v1h-3zM130 97h4v1h-4zM135 97h4v1h-4zM145 97h1v1h-1zM155 97h6v1h-6zM163 97h1v1h-1zM165 97h8v1h-8zM174 97h5v1h-5zM181 97h3v1h-3zM190 97h1v1h-1zM203 97h3v1h-3zM207 97h1v1h-1zM210 97h1v1h-1zM25 98h2v1h-2zM28 98h1v1h-1zM63 98h3v1h-3zM67 98h1v1h-1zM76 98h1v1h-1zM81 98h1v1h-1zM84 98h4v1h-4zM89 98h1v1h-1zM92 98h1v1h-1zM94 98h2v1h-2zM123 98h4v1h-4zM133 98h6v1h-6zM153 98h2v1h-2zM156 98h8v1h-8zM165 98h12v1h-12zM182 98h1v1h-1zM194 98h1v1h-1zM201 98h2v1h-2zM204 98h1v1h-1zM208 98h3v1h-3zM26 99h3v1h-3zM65 99h5v1h-5zM74 99h2v1h-2zM79 99h5v1h-5zM85 99h2v1h-2zM93 99h3v1h-3zM113 99h2v1h-2zM120 99h1v1h-1zM123 99h9v1h-9zM133 99h1v1h-1zM135 99h3v1h-3zM145 99h3v1h-3zM152 99h11v1h-11zM164 99h13v1h-13zM185 99h1v1h-1zM192 99h1v1h-1zM200 99h4v1h-4zM207 99h3v1h-3zM25 100h2v1h-2zM28 100h1v1h-1zM66 100h1v1h-1zM70 100h6v1h-6zM77 100h1v1h-1zM80 100h4v1h-4zM91 100h6v1h-6zM114 100h3v1h-3zM121 100h1v1h-1zM123 100h1v1h-1zM125 100h1v1h-1zM127 100h4v1h-4zM133 100h1v1h-1zM135 100h2v1h-2zM146 100h1v1h-1zM152 100h1v1h-1zM155 100h7v1h-7zM163 100h3v1h-3zM168 100h6v1h-6zM175 100h1v1h-1zM183 100h1v1h-1zM186 100h3v1h-3zM200 100h3v1h-3zM206 100h4v1h-4zM28 101h1v1h-1zM56 101h1v1h-1zM58 101h2v1h-2zM63 101h1v1h-1zM66 101h1v1h-1zM68 101h2v1h-2zM72 101h9v1h-9zM82 101h2v1h-2zM91 101h1v1h-1zM94 101h4v1h-4zM116 101h1v1h-1zM121 101h1v1h-1zM123 101h2v1h-2zM128 101h2v1h-2zM136 101h1v1h-1zM151 101h2v1h-2zM155 101h14v1h-14zM170 101h1v1h-1zM173 101h1v1h-1zM176 101h5v1h-5zM186 101h2v1h-2zM190 101h3v1h-3zM194 101h1v1h-1zM206 101h3v1h-3zM17 102h3v1h-3zM25 102h1v1h-1zM28 102h2v1h-2zM56 102h11v1h-11zM69 102h2v1h-2zM72 102h3v1h-3zM76 102h2v1h-2zM80 102h3v1h-3zM89 102h2v1h-2zM92 102h2v1h-2zM95 102h1v1h-1zM97 102h1v1h-1zM110 102h1v1h-1zM114 102h2v1h-2zM118 102h1v1h-1zM121 102h1v1h-1zM123 102h1v1h-1zM127 102h2v1h-2zM130 102h2v1h-2zM138 102h1v1h-1zM140 102h2v1h-2zM150 102h2v1h-2zM155 102h10v1h-10zM167 102h3v1h-3zM171 102h1v1h-1zM176 102h4v1h-4zM193 102h4v1h-4zM205 102h4v1h-4zM17 103h2v1h-2zM24 103h1v1h-1zM29 103h1v1h-1zM54 103h1v1h-1zM57 103h10v1h-10zM70 103h1v1h-1zM72 103h6v1h-6zM80 103h2v1h-2zM85 103h1v1h-1zM89 103h1v1h-1zM91 103h2v1h-2zM95 103h1v1h-1zM110 103h2v1h-2zM115 103h4v1h-4zM124 103h4v1h-4zM129 103h2v1h-2zM133 103h1v1h-1zM135 103h1v1h-1zM145 103h3v1h-3zM149 103h5v1h-5zM155 103h7v1h-7zM166 103h4v1h-4zM172 103h5v1h-5zM195 103h3v1h-3zM200 103h2v1h-2zM204 103h4v1h-4zM18 104h2v1h-2zM28 104h4v1h-4zM51 104h1v1h-1zM54 104h1v1h-1zM58 104h1v1h-1zM64 104h10v1h-10zM75 104h1v1h-1zM77 104h2v1h-2zM80 104h3v1h-3zM84 104h2v1h-2zM89 104h1v1h-1zM91 104h1v1h-1zM94 104h1v1h-1zM97 104h1v1h-1zM113 104h1v1h-1zM115 104h3v1h-3zM119 104h1v1h-1zM125 104h3v1h-3zM131 104h3v1h-3zM139 104h2v1h-2zM145 104h3v1h-3zM149 104h6v1h-6zM157 104h2v1h-2zM166 104h2v1h-2zM170 104h8v1h-8zM180 104h3v1h-3zM193 104h1v1h-1zM203 104h4v1h-4zM19 105h1v1h-1zM24 105h1v1h-1zM29 105h1v1h-1zM31 105h1v1h-1zM54 105h1v1h-1zM56 105h3v1h-3zM64 105h10v1h-10zM75 105h2v1h-2zM78 105h5v1h-5zM84 105h2v1h-2zM94 105h1v1h-1zM112 105h1v1h-1zM114 105h5v1h-5zM126 105h1v1h-1zM129 105h5v1h-5zM137 105h1v1h-1zM139 105h2v1h-2zM142 105h4v1h-4zM151 105h2v1h-2zM166 105h1v1h-1zM171 105h1v1h-1zM173 105h9v1h-9zM197 105h1v1h-1zM200 105h6v1h-6zM20 106h1v1h-1zM22 106h3v1h-3zM32 106h1v1h-1zM34 106h3v1h-3zM39 106h2v1h-2zM42 106h4v1h-4zM47 106h2v1h-2zM52 106h1v1h-1zM54 106h11v1h-11zM66 106h3v1h-3zM72 106h1v1h-1zM75 106h2v1h-2zM79 106h7v1h-7zM90 106h1v1h-1zM100 106h2v1h-2zM105 106h1v1h-1zM115 106h4v1h-4zM123 106h3v1h-3zM127 106h2v1h-2zM131 106h2v1h-2zM134 106h1v1h-1zM136 106h2v1h-2zM141 106h3v1h-3zM153 106h2v1h-2zM170 106h1v1h-1zM173 106h11v1h-11zM192 106h1v1h-1zM196 106h2v1h-2zM199 106h6v1h-6zM21 107h1v1h-1zM35 107h1v1h-1zM39 107h1v1h-1zM44 107h1v1h-1zM47 107h2v1h-2zM50 107h1v1h-1zM54 107h4v1h-4zM62 107h5v1h-5zM68 107h1v1h-1zM73 107h1v1h-1zM75 107h2v1h-2zM78 107h13v1h-13zM99 107h3v1h-3zM109 107h1v1h-1zM111 107h1v1h-1zM115 107h10v1h-10zM127 107h4v1h-4zM133 107h4v1h-4zM140 107h1v1h-1zM144 107h2v1h-2zM147 107h4v1h-4zM170 107h5v1h-5zM178 107h2v1h-2zM181 107h3v1h-3zM189 107h1v1h-1zM200 107h2v1h-2zM21 108h1v1h-1zM25 108h1v1h-1zM46 108h1v1h-1zM48 108h1v1h-1zM50 108h1v1h-1zM52 108h2v1h-2zM63 108h3v1h-3zM68 108h2v1h-2zM73 108h1v1h-1zM75 108h4v1h-4zM81 108h1v1h-1zM84 108h4v1h-4zM90 108h1v1h-1zM95 108h1v1h-1zM98 108h6v1h-6zM105 108h2v1h-2zM109 108h1v1h-1zM111 108h6v1h-6zM121 108h4v1h-4zM126 108h2v1h-2zM129 108h9v1h-9zM172 108h3v1h-3zM177 108h3v1h-3zM181 108h5v1h-5zM188 108h3v1h-3zM198 108h3v1h-3zM22 109h1v1h-1zM25 109h1v1h-1zM47 109h7v1h-7zM62 109h4v1h-4zM69 109h2v1h-2zM73 109h3v1h-3zM77 109h2v1h-2zM81 109h1v1h-1zM83 109h9v1h-9zM97 109h1v1h-1zM111 109h2v1h-2zM115 109h1v1h-1zM118 109h4v1h-4zM123 109h1v1h-1zM126 109h2v1h-2zM129 109h1v1h-1zM132 109h6v1h-6zM150 109h1v1h-1zM173 109h3v1h-3zM177 109h7v1h-7zM187 109h2v1h-2zM197 109h3v1h-3zM22 110h1v1h-1zM31 110h3v1h-3zM36 110h1v1h-1zM44 110h6v1h-6zM51 110h3v1h-3zM62 110h1v1h-1zM64 110h1v1h-1zM70 110h5v1h-5zM76 110h2v1h-2zM82 110h12v1h-12zM111 110h2v1h-2zM116 110h2v1h-2zM121 110h1v1h-1zM126 110h1v1h-1zM128 110h9v1h-9zM143 110h1v1h-1zM145 110h3v1h-3zM149 110h2v1h-2zM174 110h8v1h-8zM183 110h1v1h-1zM186 110h1v1h-1zM197 110h2v1h-2zM22 111h1v1h-1zM32 111h1v1h-1zM45 111h1v1h-1zM47 111h7v1h-7zM55 111h1v1h-1zM61 111h1v1h-1zM63 111h2v1h-2zM72 111h5v1h-5zM78 111h1v1h-1zM81 111h10v1h-10zM93 111h2v1h-2zM116 111h1v1h-1zM119 111h2v1h-2zM123 111h1v1h-1zM127 111h1v1h-1zM130 111h7v1h-7zM139 111h2v1h-2zM142 111h1v1h-1zM147 111h1v1h-1zM149 111h1v1h-1zM174 111h7v1h-7zM182 111h3v1h-3zM194 111h4v1h-4zM24 112h1v1h-1zM26 112h1v1h-1zM35 112h1v1h-1zM47 112h1v1h-1zM60 112h3v1h-3zM71 112h4v1h-4zM82 112h6v1h-6zM90 112h6v1h-6zM111 112h1v1h-1zM116 112h1v1h-1zM118 112h1v1h-1zM121 112h2v1h-2zM127 112h2v1h-2zM130 112h1v1h-1zM132 112h5v1h-5zM138 112h2v1h-2zM146 112h2v1h-2zM149 112h1v1h-1zM174 112h3v1h-3zM178 112h9v1h-9zM192 112h5v1h-5zM25 113h1v1h-1zM27 113h1v1h-1zM33 113h1v1h-1zM35 113h1v1h-1zM51 113h1v1h-1zM60 113h4v1h-4zM69 113h3v1h-3zM84 113h3v1h-3zM91 113h6v1h-6zM116 113h1v1h-1zM120 113h3v1h-3zM128 113h2v1h-2zM135 113h1v1h-1zM138 113h1v1h-1zM140 113h1v1h-1zM143 113h3v1h-3zM147 113h1v1h-1zM174 113h14v1h-14zM193 113h3v1h-3zM25 114h2v1h-2zM35 114h3v1h-3zM59 114h1v1h-1zM64 114h6v1h-6zM87 114h3v1h-3zM93 114h4v1h-4zM101 114h1v1h-1zM113 114h1v1h-1zM120 114h1v1h-1zM122 114h2v1h-2zM125 114h1v1h-1zM129 114h2v1h-2zM132 114h1v1h-1zM136 114h4v1h-4zM143 114h4v1h-4zM174 114h14v1h-14zM192 114h3v1h-3zM24 115h2v1h-2zM33 115h1v1h-1zM35 115h2v1h-2zM46 115h1v1h-1zM59 115h1v1h-1zM66 115h2v1h-2zM88 115h7v1h-7zM100 115h1v1h-1zM109 115h4v1h-4zM114 115h1v1h-1zM118 115h5v1h-5zM127 115h2v1h-2zM131 115h3v1h-3zM135 115h7v1h-7zM172 115h4v1h-4zM180 115h1v1h-1zM182 115h12v1h-12zM24 116h3v1h-3zM29 116h8v1h-8zM53 116h2v1h-2zM58 116h2v1h-2zM92 116h3v1h-3zM108 116h1v1h-1zM110 116h3v1h-3zM114 116h3v1h-3zM122 116h1v1h-1zM127 116h2v1h-2zM130 116h1v1h-1zM133 116h1v1h-1zM136 116h3v1h-3zM141 116h1v1h-1zM143 116h2v1h-2zM171 116h5v1h-5zM177 116h2v1h-2zM180 116h1v1h-1zM184 116h10v1h-10zM25 117h6v1h-6zM33 117h2v1h-2zM39 117h1v1h-1zM43 117h1v1h-1zM52 117h2v1h-2zM67 117h1v1h-1zM89 117h1v1h-1zM92 117h3v1h-3zM96 117h1v1h-1zM100 117h1v1h-1zM112 117h2v1h-2zM117 117h7v1h-7zM126 117h6v1h-6zM140 117h5v1h-5zM170 117h6v1h-6zM177 117h1v1h-1zM179 117h1v1h-1zM181 117h12v1h-12zM25 118h4v1h-4zM30 118h1v1h-1zM41 118h4v1h-4zM52 118h1v1h-1zM58 118h1v1h-1zM62 118h2v1h-2zM88 118h3v1h-3zM94 118h2v1h-2zM105 118h1v1h-1zM107 118h3v1h-3zM112 118h2v1h-2zM116 118h4v1h-4zM125 118h1v1h-1zM127 118h1v1h-1zM130 118h1v1h-1zM135 118h1v1h-1zM141 118h4v1h-4zM171 118h4v1h-4zM178 118h1v1h-1zM180 118h2v1h-2zM185 118h2v1h-2zM188 118h1v1h-1zM190 118h3v1h-3zM27 119h2v1h-2zM35 119h1v1h-1zM41 119h1v1h-1zM43 119h1v1h-1zM45 119h5v1h-5zM52 119h1v1h-1zM58 119h1v1h-1zM63 119h1v1h-1zM69 119h2v1h-2zM79 119h1v1h-1zM86 119h4v1h-4zM95 119h2v1h-2zM104 119h1v1h-1zM116 119h1v1h-1zM118 119h2v1h-2zM126 119h1v1h-1zM129 119h1v1h-1zM135 119h1v1h-1zM144 119h1v1h-1zM146 119h1v1h-1zM172 119h5v1h-5zM178 119h10v1h-10zM191 119h2v1h-2zM33 120h3v1h-3zM42 120h1v1h-1zM49 120h1v1h-1zM53 120h1v1h-1zM57 120h2v1h-2zM65 120h3v1h-3zM73 120h1v1h-1zM77 120h1v1h-1zM87 120h1v1h-1zM92 120h2v1h-2zM96 120h1v1h-1zM118 120h4v1h-4zM123 120h3v1h-3zM130 120h2v1h-2zM135 120h3v1h-3zM140 120h1v1h-1zM144 120h3v1h-3zM169 120h1v1h-1zM174 120h10v1h-10zM190 120h2v1h-2zM26 121h1v1h-1zM30 121h8v1h-8zM41 121h1v1h-1zM60 121h1v1h-1zM62 121h1v1h-1zM64 121h2v1h-2zM72 121h1v1h-1zM74 121h1v1h-1zM77 121h3v1h-3zM96 121h1v1h-1zM120 121h1v1h-1zM124 121h1v1h-1zM128 121h1v1h-1zM130 121h2v1h-2zM134 121h5v1h-5zM143 121h4v1h-4zM168 121h1v1h-1zM170 121h2v1h-2zM173 121h1v1h-1zM179 121h3v1h-3zM183 121h1v1h-1zM188 121h3v1h-3zM27 122h1v1h-1zM33 122h1v1h-1zM35 122h1v1h-1zM41 122h1v1h-1zM60 122h3v1h-3zM66 122h7v1h-7zM77 122h2v1h-2zM93 122h3v1h-3zM97 122h1v1h-1zM115 122h1v1h-1zM119 122h2v1h-2zM128 122h1v1h-1zM132 122h8v1h-8zM143 122h3v1h-3zM163 122h1v1h-1zM169 122h1v1h-1zM171 122h4v1h-4zM181 122h1v1h-1zM188 122h2v1h-2zM27 123h1v1h-1zM40 123h3v1h-3zM46 123h1v1h-1zM53 123h1v1h-1zM64 123h1v1h-1zM66 123h1v1h-1zM69 123h2v1h-2zM72 123h1v1h-1zM74 123h3v1h-3zM79 123h2v1h-2zM97 123h3v1h-3zM128 123h1v1h-1zM132 123h2v1h-2zM137 123h3v1h-3zM144 123h1v1h-1zM168 123h3v1h-3zM172 123h2v1h-2zM180 123h1v1h-1zM183 123h1v1h-1zM187 123h3v1h-3zM29 124h1v1h-1zM39 124h2v1h-2zM53 124h3v1h-3zM62 124h1v1h-1zM65 124h13v1h-13zM86 124h1v1h-1zM96 124h1v1h-1zM98 124h3v1h-3zM102 124h1v1h-1zM114 124h1v1h-1zM128 124h2v1h-2zM131 124h1v1h-1zM136 124h1v1h-1zM142 124h1v1h-1zM144 124h1v1h-1zM165 124h1v1h-1zM172 124h1v1h-1zM188 124h1v1h-1zM28 125h1v1h-1zM37 125h1v1h-1zM54 125h1v1h-1zM62 125h5v1h-5zM71 125h1v1h-1zM75 125h1v1h-1zM80 125h1v1h-1zM86 125h3v1h-3zM90 125h1v1h-1zM97 125h2v1h-2zM100 125h2v1h-2zM104 125h1v1h-1zM107 125h1v1h-1zM113 125h1v1h-1zM119 125h1v1h-1zM127 125h3v1h-3zM131 125h4v1h-4zM140 125h1v1h-1zM145 125h1v1h-1zM162 125h1v1h-1zM168 125h1v1h-1zM171 125h2v1h-2zM174 125h1v1h-1zM187 125h2v1h-2zM28 126h2v1h-2zM35 126h2v1h-2zM44 126h1v1h-1zM54 126h1v1h-1zM59 126h1v1h-1zM62 126h2v1h-2zM70 126h3v1h-3zM75 126h3v1h-3zM80 126h2v1h-2zM86 126h1v1h-1zM90 126h2v1h-2zM94 126h9v1h-9zM107 126h1v1h-1zM111 126h1v1h-1zM120 126h2v1h-2zM123 126h1v1h-1zM126 126h1v1h-1zM128 126h1v1h-1zM131 126h1v1h-1zM133 126h1v1h-1zM139 126h2v1h-2zM148 126h1v1h-1zM161 126h3v1h-3zM171 126h2v1h-2zM175 126h2v1h-2zM179 126h1v1h-1zM186 126h2v1h-2zM29 127h1v1h-1zM44 127h1v1h-1zM56 127h1v1h-1zM61 127h1v1h-1zM72 127h1v1h-1zM74 127h5v1h-5zM80 127h2v1h-2zM85 127h1v1h-1zM89 127h1v1h-1zM95 127h1v1h-1zM98 127h2v1h-2zM101 127h5v1h-5zM108 127h1v1h-1zM115 127h5v1h-5zM121 127h1v1h-1zM123 127h1v1h-1zM125 127h2v1h-2zM138 127h3v1h-3zM142 127h1v1h-1zM162 127h1v1h-1zM183 127h1v1h-1zM186 127h1v1h-1zM29 128h1v1h-1zM44 128h3v1h-3zM58 128h2v1h-2zM64 128h1v1h-1zM66 128h1v1h-1zM71 128h2v1h-2zM75 128h6v1h-6zM82 128h1v1h-1zM85 128h2v1h-2zM88 128h1v1h-1zM90 128h1v1h-1zM101 128h1v1h-1zM104 128h1v1h-1zM106 128h2v1h-2zM115 128h1v1h-1zM120 128h2v1h-2zM125 128h2v1h-2zM128 128h2v1h-2zM138 128h1v1h-1zM141 128h1v1h-1zM144 128h3v1h-3zM148 128h1v1h-1zM152 128h1v1h-1zM155 128h1v1h-1zM157 128h1v1h-1zM162 128h1v1h-1zM180 128h4v1h-4zM185 128h2v1h-2zM30 129h1v1h-1zM44 129h1v1h-1zM50 129h1v1h-1zM58 129h1v1h-1zM64 129h1v1h-1zM67 129h2v1h-2zM72 129h1v1h-1zM74 129h3v1h-3zM86 129h2v1h-2zM90 129h1v1h-1zM93 129h1v1h-1zM99 129h1v1h-1zM101 129h2v1h-2zM106 129h3v1h-3zM111 129h1v1h-1zM115 129h3v1h-3zM124 129h3v1h-3zM147 129h2v1h-2zM154 129h6v1h-6zM167 129h1v1h-1zM180 129h1v1h-1zM182 129h4v1h-4zM31 130h1v1h-1zM43 130h2v1h-2zM59 130h1v1h-1zM64 130h1v1h-1zM66 130h1v1h-1zM69 130h3v1h-3zM73 130h3v1h-3zM77 130h1v1h-1zM79 130h4v1h-4zM85 130h1v1h-1zM98 130h1v1h-1zM101 130h1v1h-1zM107 130h1v1h-1zM110 130h3v1h-3zM114 130h3v1h-3zM118 130h3v1h-3zM123 130h3v1h-3zM129 130h1v1h-1zM143 130h1v1h-1zM148 130h1v1h-1zM152 130h4v1h-4zM177 130h1v1h-1zM180 130h1v1h-1zM182 130h3v1h-3zM44 131h2v1h-2zM53 131h1v1h-1zM59 131h1v1h-1zM69 131h1v1h-1zM72 131h1v1h-1zM76 131h2v1h-2zM80 131h2v1h-2zM83 131h3v1h-3zM102 131h1v1h-1zM107 131h3v1h-3zM112 131h1v1h-1zM114 131h3v1h-3zM118 131h3v1h-3zM123 131h1v1h-1zM125 131h2v1h-2zM128 131h1v1h-1zM134 131h2v1h-2zM151 131h1v1h-1zM155 131h1v1h-1zM157 131h2v1h-2zM172 131h1v1h-1zM177 131h1v1h-1zM181 131h3v1h-3zM32 132h1v1h-1zM38 132h1v1h-1zM40 132h1v1h-1zM44 132h2v1h-2zM53 132h1v1h-1zM56 132h4v1h-4zM61 132h2v1h-2zM66 132h1v1h-1zM69 132h2v1h-2zM74 132h1v1h-1zM78 132h1v1h-1zM80 132h2v1h-2zM84 132h1v1h-1zM102 132h2v1h-2zM107 132h1v1h-1zM112 132h9v1h-9zM122 132h2v1h-2zM125 132h2v1h-2zM128 132h1v1h-1zM137 132h1v1h-1zM158 132h1v1h-1zM172 132h1v1h-1zM178 132h1v1h-1zM182 132h2v1h-2zM32 133h1v1h-1zM37 133h2v1h-2zM40 133h1v1h-1zM42 133h1v1h-1zM53 133h1v1h-1zM55 133h5v1h-5zM61 133h2v1h-2zM65 133h2v1h-2zM69 133h2v1h-2zM74 133h1v1h-1zM82 133h2v1h-2zM93 133h1v1h-1zM100 133h1v1h-1zM102 133h1v1h-1zM107 133h3v1h-3zM111 133h5v1h-5zM117 133h4v1h-4zM122 133h2v1h-2zM126 133h2v1h-2zM134 133h1v1h-1zM160 133h1v1h-1zM177 133h1v1h-1zM181 133h2v1h-2zM34 134h1v1h-1zM36 134h2v1h-2zM41 134h1v1h-1zM48 134h1v1h-1zM50 134h1v1h-1zM53 134h8v1h-8zM63 134h2v1h-2zM66 134h1v1h-1zM70 134h3v1h-3zM74 134h2v1h-2zM81 134h3v1h-3zM86 134h1v1h-1zM88 134h1v1h-1zM102 134h2v1h-2zM107 134h5v1h-5zM113 134h15v1h-15zM130 134h1v1h-1zM153 134h1v1h-1zM155 134h1v1h-1zM158 134h1v1h-1zM179 134h2v1h-2zM34 135h5v1h-5zM43 135h3v1h-3zM48 135h2v1h-2zM52 135h3v1h-3zM56 135h1v1h-1zM58 135h2v1h-2zM61 135h1v1h-1zM63 135h1v1h-1zM66 135h1v1h-1zM73 135h1v1h-1zM85 135h2v1h-2zM90 135h1v1h-1zM104 135h2v1h-2zM107 135h1v1h-1zM112 135h6v1h-6zM121 135h1v1h-1zM123 135h3v1h-3zM133 135h1v1h-1zM144 135h1v1h-1zM153 135h1v1h-1zM179 135h2v1h-2zM35 136h1v1h-1zM38 136h1v1h-1zM40 136h1v1h-1zM43 136h4v1h-4zM48 136h4v1h-4zM54 136h2v1h-2zM57 136h3v1h-3zM62 136h2v1h-2zM68 136h1v1h-1zM70 136h2v1h-2zM73 136h1v1h-1zM80 136h1v1h-1zM87 136h1v1h-1zM89 136h2v1h-2zM97 136h3v1h-3zM105 136h6v1h-6zM112 136h5v1h-5zM120 136h1v1h-1zM125 136h2v1h-2zM128 136h1v1h-1zM131 136h1v1h-1zM136 136h1v1h-1zM144 136h1v1h-1zM147 136h1v1h-1zM164 136h1v1h-1zM176 136h2v1h-2zM36 137h1v1h-1zM38 137h5v1h-5zM44 137h6v1h-6zM51 137h3v1h-3zM55 137h3v1h-3zM60 137h1v1h-1zM64 137h2v1h-2zM68 137h1v1h-1zM72 137h1v1h-1zM88 137h2v1h-2zM93 137h1v1h-1zM102 137h1v1h-1zM105 137h3v1h-3zM109 137h4v1h-4zM114 137h3v1h-3zM118 137h5v1h-5zM126 137h2v1h-2zM130 137h1v1h-1zM134 137h3v1h-3zM147 137h1v1h-1zM149 137h2v1h-2zM165 137h1v1h-1zM176 137h3v1h-3zM38 138h5v1h-5zM44 138h9v1h-9zM54 138h1v1h-1zM56 138h2v1h-2zM66 138h1v1h-1zM88 138h1v1h-1zM106 138h1v1h-1zM112 138h6v1h-6zM119 138h4v1h-4zM127 138h2v1h-2zM132 138h4v1h-4zM138 138h1v1h-1zM140 138h1v1h-1zM160 138h2v1h-2zM176 138h1v1h-1zM37 139h2v1h-2zM41 139h14v1h-14zM56 139h3v1h-3zM65 139h3v1h-3zM86 139h1v1h-1zM105 139h2v1h-2zM109 139h2v1h-2zM112 139h6v1h-6zM120 139h3v1h-3zM125 139h2v1h-2zM128 139h1v1h-1zM130 139h1v1h-1zM133 139h2v1h-2zM137 139h2v1h-2zM164 139h2v1h-2zM172 139h3v1h-3zM38 140h2v1h-2zM41 140h12v1h-12zM56 140h4v1h-4zM64 140h2v1h-2zM76 140h1v1h-1zM86 140h1v1h-1zM88 140h2v1h-2zM100 140h1v1h-1zM105 140h1v1h-1zM108 140h2v1h-2zM112 140h5v1h-5zM120 140h7v1h-7zM134 140h1v1h-1zM137 140h1v1h-1zM139 140h2v1h-2zM173 140h1v1h-1zM38 141h15v1h-15zM54 141h3v1h-3zM76 141h1v1h-1zM88 141h4v1h-4zM101 141h1v1h-1zM103 141h8v1h-8zM112 141h2v1h-2zM115 141h2v1h-2zM118 141h13v1h-13zM139 141h1v1h-1zM157 141h1v1h-1zM171 141h1v1h-1zM39 142h8v1h-8zM50 142h7v1h-7zM58 142h1v1h-1zM60 142h1v1h-1zM62 142h1v1h-1zM69 142h1v1h-1zM77 142h2v1h-2zM85 142h1v1h-1zM88 142h3v1h-3zM96 142h1v1h-1zM99 142h1v1h-1zM108 142h3v1h-3zM112 142h11v1h-11zM124 142h3v1h-3zM131 142h1v1h-1zM133 142h2v1h-2zM136 142h2v1h-2zM139 142h1v1h-1zM141 142h3v1h-3zM155 142h2v1h-2zM171 142h1v1h-1zM39 143h2v1h-2zM42 143h2v1h-2zM45 143h6v1h-6zM60 143h1v1h-1zM76 143h3v1h-3zM88 143h3v1h-3zM94 143h3v1h-3zM98 143h1v1h-1zM102 143h1v1h-1zM104 143h2v1h-2zM108 143h10v1h-10zM120 143h9v1h-9zM136 143h1v1h-1zM143 143h1v1h-1zM148 143h1v1h-1zM155 143h2v1h-2zM158 143h1v1h-1zM169 143h2v1h-2zM39 144h2v1h-2zM42 144h5v1h-5zM48 144h3v1h-3zM53 144h1v1h-1zM76 144h1v1h-1zM78 144h2v1h-2zM84 144h2v1h-2zM87 144h1v1h-1zM89 144h1v1h-1zM92 144h3v1h-3zM99 144h4v1h-4zM104 144h1v1h-1zM108 144h2v1h-2zM111 144h18v1h-18zM134 144h1v1h-1zM143 144h2v1h-2zM163 144h1v1h-1zM168 144h2v1h-2zM39 145h14v1h-14zM59 145h3v1h-3zM70 145h2v1h-2zM76 145h1v1h-1zM78 145h2v1h-2zM85 145h1v1h-1zM90 145h5v1h-5zM96 145h2v1h-2zM100 145h1v1h-1zM102 145h2v1h-2zM106 145h1v1h-1zM108 145h1v1h-1zM110 145h3v1h-3zM114 145h10v1h-10zM125 145h3v1h-3zM129 145h1v1h-1zM132 145h1v1h-1zM143 145h2v1h-2zM159 145h1v1h-1zM167 145h2v1h-2zM39 146h16v1h-16zM59 146h3v1h-3zM67 146h1v1h-1zM78 146h2v1h-2zM81 146h2v1h-2zM87 146h1v1h-1zM90 146h1v1h-1zM92 146h3v1h-3zM102 146h4v1h-4zM107 146h11v1h-11zM119 146h8v1h-8zM129 146h4v1h-4zM135 146h1v1h-1zM142 146h2v1h-2zM146 146h1v1h-1zM153 146h1v1h-1zM166 146h2v1h-2zM39 147h5v1h-5zM45 147h6v1h-6zM54 147h1v1h-1zM58 147h1v1h-1zM61 147h1v1h-1zM66 147h3v1h-3zM70 147h1v1h-1zM75 147h1v1h-1zM79 147h2v1h-2zM84 147h8v1h-8zM93 147h2v1h-2zM97 147h1v1h-1zM103 147h1v1h-1zM108 147h10v1h-10zM121 147h8v1h-8zM132 147h1v1h-1zM134 147h2v1h-2zM143 147h2v1h-2zM165 147h2v1h-2zM39 148h3v1h-3zM44 148h7v1h-7zM52 148h1v1h-1zM54 148h1v1h-1zM57 148h4v1h-4zM67 148h8v1h-8zM79 148h4v1h-4zM87 148h1v1h-1zM89 148h7v1h-7zM101 148h1v1h-1zM105 148h1v1h-1zM108 148h2v1h-2zM111 148h3v1h-3zM115 148h5v1h-5zM130 148h1v1h-1zM133 148h1v1h-1zM143 148h2v1h-2zM165 148h1v1h-1zM40 149h1v1h-1zM42 149h1v1h-1zM44 149h4v1h-4zM49 149h6v1h-6zM57 149h2v1h-2zM64 149h6v1h-6zM72 149h3v1h-3zM89 149h1v1h-1zM91 149h7v1h-7zM99 149h1v1h-1zM101 149h3v1h-3zM107 149h2v1h-2zM110 149h9v1h-9zM127 149h2v1h-2zM131 149h1v1h-1zM133 149h1v1h-1zM139 149h2v1h-2zM142 149h2v1h-2zM146 149h2v1h-2zM152 149h2v1h-2zM155 149h2v1h-2zM163 149h2v1h-2zM39 150h6v1h-6zM46 150h3v1h-3zM50 150h3v1h-3zM54 150h1v1h-1zM57 150h3v1h-3zM66 150h3v1h-3zM70 150h1v1h-1zM80 150h3v1h-3zM90 150h4v1h-4zM98 150h1v1h-1zM103 150h2v1h-2zM109 150h9v1h-9zM122 150h1v1h-1zM132 150h2v1h-2zM135 150h1v1h-1zM139 150h5v1h-5zM145 150h5v1h-5zM152 150h2v1h-2zM155 150h1v1h-1zM162 150h1v1h-1zM39 151h6v1h-6zM46 151h1v1h-1zM48 151h1v1h-1zM50 151h1v1h-1zM52 151h2v1h-2zM56 151h2v1h-2zM64 151h2v1h-2zM67 151h1v1h-1zM69 151h3v1h-3zM75 151h1v1h-1zM79 151h2v1h-2zM88 151h1v1h-1zM92 151h1v1h-1zM94 151h2v1h-2zM97 151h2v1h-2zM103 151h3v1h-3zM110 151h1v1h-1zM112 151h3v1h-3zM116 151h1v1h-1zM124 151h1v1h-1zM128 151h4v1h-4zM133 151h1v1h-1zM135 151h1v1h-1zM137 151h1v1h-1zM140 151h8v1h-8zM149 151h1v1h-1zM153 151h3v1h-3zM158 151h1v1h-1zM160 151h3v1h-3zM35 152h2v1h-2zM38 152h5v1h-5zM44 152h1v1h-1zM46 152h3v1h-3zM50 152h1v1h-1zM52 152h1v1h-1zM54 152h1v1h-1zM61 152h1v1h-1zM64 152h2v1h-2zM69 152h3v1h-3zM73 152h1v1h-1zM75 152h1v1h-1zM81 152h3v1h-3zM89 152h1v1h-1zM94 152h1v1h-1zM96 152h5v1h-5zM103 152h3v1h-3zM112 152h5v1h-5zM118 152h2v1h-2zM123 152h2v1h-2zM126 152h2v1h-2zM131 152h5v1h-5zM137 152h3v1h-3zM142 152h4v1h-4zM147 152h1v1h-1zM151 152h1v1h-1zM153 152h1v1h-1zM155 152h1v1h-1zM157 152h4v1h-4zM34 153h5v1h-5zM42 153h3v1h-3zM46 153h6v1h-6zM53 153h2v1h-2zM56 153h1v1h-1zM59 153h3v1h-3zM67 153h2v1h-2zM71 153h1v1h-1zM76 153h2v1h-2zM81 153h1v1h-1zM84 153h1v1h-1zM94 153h2v1h-2zM97 153h1v1h-1zM99 153h2v1h-2zM106 153h1v1h-1zM109 153h1v1h-1zM111 153h1v1h-1zM114 153h1v1h-1zM123 153h4v1h-4zM128 153h7v1h-7zM136 153h1v1h-1zM138 153h1v1h-1zM141 153h6v1h-6zM153 153h1v1h-1zM155 153h5v1h-5zM34 154h11v1h-11zM46 154h6v1h-6zM53 154h8v1h-8zM62 154h2v1h-2zM65 154h1v1h-1zM68 154h1v1h-1zM70 154h2v1h-2zM77 154h1v1h-1zM80 154h1v1h-1zM83 154h2v1h-2zM89 154h5v1h-5zM97 154h3v1h-3zM101 154h2v1h-2zM106 154h1v1h-1zM111 154h3v1h-3zM119 154h1v1h-1zM123 154h1v1h-1zM125 154h1v1h-1zM129 154h5v1h-5zM135 154h1v1h-1zM142 154h2v1h-2zM145 154h1v1h-1zM148 154h1v1h-1zM150 154h2v1h-2zM153 154h5v1h-5zM34 155h8v1h-8zM44 155h2v1h-2zM48 155h4v1h-4zM53 155h1v1h-1zM59 155h1v1h-1zM61 155h3v1h-3zM66 155h1v1h-1zM71 155h1v1h-1zM83 155h2v1h-2zM86 155h1v1h-1zM88 155h2v1h-2zM91 155h3v1h-3zM97 155h1v1h-1zM102 155h1v1h-1zM111 155h2v1h-2zM116 155h3v1h-3zM122 155h2v1h-2zM125 155h1v1h-1zM127 155h6v1h-6zM134 155h2v1h-2zM149 155h1v1h-1zM152 155h5v1h-5zM35 156h7v1h-7zM43 156h3v1h-3zM47 156h3v1h-3zM51 156h1v1h-1zM57 156h3v1h-3zM61 156h3v1h-3zM65 156h1v1h-1zM75 156h1v1h-1zM77 156h1v1h-1zM112 156h2v1h-2zM115 156h4v1h-4zM127 156h3v1h-3zM133 156h1v1h-1zM136 156h3v1h-3zM141 156h1v1h-1zM149 156h1v1h-1zM152 156h4v1h-4zM35 157h3v1h-3zM39 157h2v1h-2zM43 157h7v1h-7zM52 157h1v1h-1zM55 157h6v1h-6zM62 157h1v1h-1zM64 157h1v1h-1zM68 157h1v1h-1zM71 157h1v1h-1zM83 157h1v1h-1zM91 157h1v1h-1zM93 157h1v1h-1zM97 157h2v1h-2zM102 157h3v1h-3zM107 157h1v1h-1zM115 157h4v1h-4zM121 157h1v1h-1zM123 157h3v1h-3zM129 157h2v1h-2zM132 157h8v1h-8zM148 157h3v1h-3zM152 157h2v1h-2zM36 158h3v1h-3zM40 158h1v1h-1zM42 158h1v1h-1zM45 158h1v1h-1zM48 158h4v1h-4zM56 158h1v1h-1zM64 158h1v1h-1zM66 158h6v1h-6zM82 158h4v1h-4zM94 158h1v1h-1zM101 158h2v1h-2zM104 158h2v1h-2zM114 158h1v1h-1zM116 158h2v1h-2zM119 158h1v1h-1zM121 158h2v1h-2zM124 158h2v1h-2zM129 158h2v1h-2zM136 158h2v1h-2zM139 158h1v1h-1zM143 158h1v1h-1zM146 158h1v1h-1zM149 158h3v1h-3zM39 159h14v1h-14zM57 159h2v1h-2zM60 159h1v1h-1zM63 159h4v1h-4zM68 159h2v1h-2zM71 159h2v1h-2zM79 159h8v1h-8zM89 159h2v1h-2zM96 159h2v1h-2zM101 159h1v1h-1zM117 159h1v1h-1zM119 159h3v1h-3zM124 159h1v1h-1zM128 159h2v1h-2zM132 159h2v1h-2zM136 159h4v1h-4zM143 159h2v1h-2zM147 159h1v1h-1zM149 159h1v1h-1zM37 160h24v1h-24zM65 160h2v1h-2zM69 160h4v1h-4zM74 160h4v1h-4zM79 160h8v1h-8zM88 160h6v1h-6zM100 160h1v1h-1zM102 160h1v1h-1zM112 160h1v1h-1zM117 160h2v1h-2zM120 160h6v1h-6zM128 160h3v1h-3zM134 160h10v1h-10zM146 160h2v1h-2zM40 161h2v1h-2zM43 161h7v1h-7zM51 161h3v1h-3zM55 161h1v1h-1zM57 161h1v1h-1zM60 161h1v1h-1zM65 161h11v1h-11zM78 161h7v1h-7zM86 161h8v1h-8zM96 161h1v1h-1zM100 161h1v1h-1zM102 161h2v1h-2zM116 161h3v1h-3zM121 161h3v1h-3zM125 161h5v1h-5zM132 161h3v1h-3zM137 161h1v1h-1zM139 161h8v1h-8zM39 162h7v1h-7zM47 162h9v1h-9zM59 162h5v1h-5zM65 162h1v1h-1zM67 162h1v1h-1zM73 162h2v1h-2zM77 162h1v1h-1zM79 162h10v1h-10zM90 162h1v1h-1zM92 162h3v1h-3zM100 162h2v1h-2zM103 162h7v1h-7zM111 162h1v1h-1zM114 162h1v1h-1zM117 162h2v1h-2zM121 162h3v1h-3zM125 162h6v1h-6zM133 162h1v1h-1zM136 162h1v1h-1zM138 162h8v1h-8zM40 163h15v1h-15zM56 163h1v1h-1zM58 163h3v1h-3zM63 163h2v1h-2zM66 163h1v1h-1zM71 163h1v1h-1zM77 163h1v1h-1zM79 163h10v1h-10zM93 163h3v1h-3zM97 163h1v1h-1zM100 163h2v1h-2zM104 163h1v1h-1zM109 163h2v1h-2zM112 163h4v1h-4zM122 163h11v1h-11zM134 163h9v1h-9zM41 164h9v1h-9zM52 164h8v1h-8zM61 164h1v1h-1zM63 164h2v1h-2zM67 164h1v1h-1zM77 164h12v1h-12zM90 164h1v1h-1zM92 164h2v1h-2zM97 164h1v1h-1zM112 164h1v1h-1zM115 164h3v1h-3zM123 164h8v1h-8zM132 164h9v1h-9zM40 165h10v1h-10zM51 165h2v1h-2zM54 165h9v1h-9zM70 165h1v1h-1zM73 165h2v1h-2zM77 165h13v1h-13zM91 165h1v1h-1zM97 165h3v1h-3zM116 165h4v1h-4zM122 165h7v1h-7zM137 165h2v1h-2zM40 166h11v1h-11zM52 166h2v1h-2zM55 166h2v1h-2zM58 166h6v1h-6zM68 166h1v1h-1zM70 166h5v1h-5zM76 166h2v1h-2zM79 166h1v1h-1zM82 166h3v1h-3zM86 166h4v1h-4zM92 166h1v1h-1zM94 166h3v1h-3zM103 166h4v1h-4zM112 166h2v1h-2zM117 166h11v1h-11zM40 167h13v1h-13zM54 167h1v1h-1zM56 167h15v1h-15zM72 167h4v1h-4zM77 167h21v1h-21zM99 167h8v1h-8zM109 167h1v1h-1zM111 167h1v1h-1zM116 167h13v1h-13zM39 168h18v1h-18zM61 168h41v1h-41zM105 168h2v1h-2zM108 168h1v1h-1zM110 168h10v1h-10zM124 168h5v1h-5zM39 169h4v1h-4zM45 169h4v1h-4zM50 169h14v1h-14zM65 169h21v1h-21zM95 169h1v1h-1zM100 169h1v1h-1zM111 169h8v1h-8zM40 170h2v1h-2zM45 170h11v1h-11zM57 170h3v1h-3zM61 170h5v1h-5zM67 170h19v1h-19zM115 170h4v1h-4zM40 171h2v1h-2zM45 171h12v1h-12zM58 171h1v1h-1zM60 171h1v1h-1zM62 171h1v1h-1zM64 171h2v1h-2zM67 171h13v1h-13zM81 171h3v1h-3zM41 172h1v1h-1zM45 172h14v1h-14zM63 172h5v1h-5zM69 172h2v1h-2zM72 172h11v1h-11zM49 173h11v1h-11zM61 173h2v1h-2zM64 173h7v1h-7zM74 173h3v1h-3zM52 174h10v1h-10zM51 175h12v1h-12zM54 176h9v1h-9zM55 177h6v1h-6z"/>
<path fill="#FDE725" d="M162 76h1v1h-1z"/>
</g>
<g clip-path="url(#silclip)" fill="#EBEBEB" shape-rendering="crispEdges"><rect x="205" y="438" width="1" height="1312" fill-opacity="0.086"/><rect x="213" y="438" width="1" height="1312" fill-opacity="0.244"/><rect x="220" y="438" width="1" height="1312" fill-opacity="0.061"/><rect x="228" y="438" width="1" height="1312" fill-opacity="0.247"/><rect x="235" y="438" width="1" height="1312" fill-opacity="0.034"/><rect x="243" y="438" width="1" height="1312" fill-opacity="0.250"/><rect x="250" y="438" width="1" height="1312" fill-opacity="0.005"/><rect x="258" y="438" width="1" height="1312" fill-opacity="0.250"/><rect x="266" y="438" width="1" height="1312" fill-opacity="0.024"/><rect x="273" y="438" width="1" height="1312" fill-opacity="0.248"/><rect x="281" y="438" width="1" height="1312" fill-opacity="0.052"/><rect x="288" y="438" width="1" height="1312" fill-opacity="0.245"/><rect x="296" y="438" width="1" height="1312" fill-opacity="0.078"/><rect x="303" y="438" width="1" height="1312" fill-opacity="0.240"/><rect x="311" y="438" width="1" height="1312" fill-opacity="0.102"/><rect x="318" y="438" width="1" height="1312" fill-opacity="0.233"/><rect x="326" y="438" width="1" height="1312" fill-opacity="0.124"/><rect x="333" y="438" width="1" height="1312" fill-opacity="0.224"/><rect x="341" y="438" width="1" height="1312" fill-opacity="0.144"/><rect x="348" y="438" width="1" height="1312" fill-opacity="0.214"/><rect x="356" y="438" width="1" height="1312" fill-opacity="0.163"/><rect x="363" y="438" width="1" height="1312" fill-opacity="0.202"/><rect x="371" y="438" width="1" height="1312" fill-opacity="0.180"/><rect x="378" y="438" width="1" height="1312" fill-opacity="0.188"/><rect x="386" y="438" width="1" height="1312" fill-opacity="0.195"/><rect x="393" y="438" width="1" height="1312" fill-opacity="0.172"/><rect x="401" y="438" width="1" height="1312" fill-opacity="0.208"/><rect x="408" y="438" width="1" height="1312" fill-opacity="0.154"/><rect x="416" y="438" width="1" height="1312" fill-opacity="0.219"/><rect x="423" y="438" width="1" height="1312" fill-opacity="0.134"/><rect x="431" y="438" width="1" height="1312" fill-opacity="0.229"/><rect x="438" y="438" width="1" height="1312" fill-opacity="0.113"/><rect x="446" y="438" width="1" height="1312" fill-opacity="0.237"/><rect x="453" y="438" width="1" height="1312" fill-opacity="0.090"/><rect x="461" y="438" width="1" height="1312" fill-opacity="0.243"/><rect x="468" y="438" width="1" height="1312" fill-opacity="0.065"/><rect x="476" y="438" width="1" height="1312" fill-opacity="0.247"/><rect x="483" y="438" width="1" height="1312" fill-opacity="0.038"/><rect x="491" y="438" width="1" height="1312" fill-opacity="0.249"/><rect x="498" y="438" width="1" height="1312" fill-opacity="0.010"/><rect x="506" y="438" width="1" height="1312" fill-opacity="0.250"/><rect x="514" y="438" width="1" height="1312" fill-opacity="0.020"/><rect x="521" y="438" width="1" height="1312" fill-opacity="0.249"/><rect x="529" y="438" width="1" height="1312" fill-opacity="0.047"/><rect x="536" y="438" width="1" height="1312" fill-opacity="0.246"/><rect x="544" y="438" width="1" height="1312" fill-opacity="0.074"/><rect x="551" y="438" width="1" height="1312" fill-opacity="0.241"/><rect x="559" y="438" width="1" height="1312" fill-opacity="0.098"/><rect x="566" y="438" width="1" height="1312" fill-opacity="0.234"/><rect x="574" y="438" width="1" height="1312" fill-opacity="0.120"/><rect x="581" y="438" width="1" height="1312" fill-opacity="0.226"/><rect x="589" y="438" width="1" height="1312" fill-opacity="0.141"/><rect x="596" y="438" width="1" height="1312" fill-opacity="0.216"/><rect x="604" y="438" width="1" height="1312" fill-opacity="0.160"/><rect x="611" y="438" width="1" height="1312" fill-opacity="0.204"/><rect x="619" y="438" width="1" height="1312" fill-opacity="0.177"/><rect x="626" y="438" width="1" height="1312" fill-opacity="0.190"/><rect x="634" y="438" width="1" height="1312" fill-opacity="0.192"/><rect x="641" y="438" width="1" height="1312" fill-opacity="0.174"/><rect x="649" y="438" width="1" height="1312" fill-opacity="0.206"/><rect x="656" y="438" width="1" height="1312" fill-opacity="0.157"/><rect x="664" y="438" width="1" height="1312" fill-opacity="0.218"/><rect x="671" y="438" width="1" height="1312" fill-opacity="0.138"/><rect x="679" y="438" width="1" height="1312" fill-opacity="0.227"/><rect x="686" y="438" width="1" height="1312" fill-opacity="0.117"/><rect x="694" y="438" width="1" height="1312" fill-opacity="0.236"/><rect x="701" y="438" width="1" height="1312" fill-opacity="0.094"/><rect x="709" y="438" width="1" height="1312" fill-opacity="0.242"/><rect x="716" y="438" width="1" height="1312" fill-opacity="0.069"/><rect x="724" y="438" width="1" height="1312" fill-opacity="0.246"/><rect x="731" y="438" width="1" height="1312" fill-opacity="0.043"/><rect x="739" y="438" width="1" height="1312" fill-opacity="0.249"/><rect x="746" y="438" width="1" height="1312" fill-opacity="0.015"/><rect x="754" y="438" width="1" height="1312" fill-opacity="0.250"/><rect x="762" y="438" width="1" height="1312" fill-opacity="0.015"/><rect x="769" y="438" width="1" height="1312" fill-opacity="0.249"/><rect x="777" y="438" width="1" height="1312" fill-opacity="0.043"/><rect x="784" y="438" width="1" height="1312" fill-opacity="0.246"/><rect x="792" y="438" width="1" height="1312" fill-opacity="0.069"/><rect x="799" y="438" width="1" height="1312" fill-opacity="0.242"/><rect x="807" y="438" width="1" height="1312" fill-opacity="0.094"/><rect x="814" y="438" width="1" height="1312" fill-opacity="0.236"/><rect x="822" y="438" width="1" height="1312" fill-opacity="0.117"/><rect x="829" y="438" width="1" height="1312" fill-opacity="0.228"/><rect x="837" y="438" width="1" height="1312" fill-opacity="0.138"/><rect x="844" y="438" width="1" height="1312" fill-opacity="0.218"/><rect x="852" y="438" width="1" height="1312" fill-opacity="0.157"/><rect x="859" y="438" width="1" height="1312" fill-opacity="0.206"/><rect x="867" y="438" width="1" height="1312" fill-opacity="0.174"/><rect x="874" y="438" width="1" height="1312" fill-opacity="0.192"/><rect x="882" y="438" width="1" height="1312" fill-opacity="0.190"/><rect x="889" y="438" width="1" height="1312" fill-opacity="0.177"/><rect x="897" y="438" width="1" height="1312" fill-opacity="0.204"/><rect x="904" y="438" width="1" height="1312" fill-opacity="0.160"/><rect x="912" y="438" width="1" height="1312" fill-opacity="0.216"/><rect x="919" y="438" width="1" height="1312" fill-opacity="0.141"/><rect x="927" y="438" width="1" height="1312" fill-opacity="0.226"/><rect x="934" y="438" width="1" height="1312" fill-opacity="0.120"/><rect x="942" y="438" width="1" height="1312" fill-opacity="0.234"/><rect x="949" y="438" width="1" height="1312" fill-opacity="0.098"/><rect x="957" y="438" width="1" height="1312" fill-opacity="0.241"/><rect x="964" y="438" width="1" height="1312" fill-opacity="0.074"/><rect x="972" y="438" width="1" height="1312" fill-opacity="0.246"/><rect x="979" y="438" width="1" height="1312" fill-opacity="0.047"/><rect x="987" y="438" width="1" height="1312" fill-opacity="0.249"/><rect x="994" y="438" width="1" height="1312" fill-opacity="0.020"/><rect x="1002" y="438" width="1" height="1312" fill-opacity="0.250"/><rect x="1010" y="438" width="1" height="1312" fill-opacity="0.010"/><rect x="1017" y="438" width="1" height="1312" fill-opacity="0.249"/><rect x="1025" y="438" width="1" height="1312" fill-opacity="0.038"/><rect x="1032" y="438" width="1" height="1312" fill-opacity="0.247"/><rect x="1040" y="438" width="1" height="1312" fill-opacity="0.065"/><rect x="1047" y="438" width="1" height="1312" fill-opacity="0.243"/><rect x="1055" y="438" width="1" height="1312" fill-opacity="0.090"/><rect x="1062" y="438" width="1" height="1312" fill-opacity="0.237"/><rect x="1070" y="438" width="1" height="1312" fill-opacity="0.113"/><rect x="1077" y="438" width="1" height="1312" fill-opacity="0.229"/><rect x="1085" y="438" width="1" height="1312" fill-opacity="0.134"/><rect x="1092" y="438" width="1" height="1312" fill-opacity="0.219"/><rect x="1100" y="438" width="1" height="1312" fill-opacity="0.154"/><rect x="1107" y="438" width="1" height="1312" fill-opacity="0.208"/><rect x="1115" y="438" width="1" height="1312" fill-opacity="0.172"/><rect x="1122" y="438" width="1" height="1312" fill-opacity="0.195"/><rect x="1130" y="438" width="1" height="1312" fill-opacity="0.188"/><rect x="1137" y="438" width="1" height="1312" fill-opacity="0.180"/><rect x="1145" y="438" width="1" height="1312" fill-opacity="0.202"/><rect x="1152" y="438" width="1" height="1312" fill-opacity="0.163"/><rect x="1160" y="438" width="1" height="1312" fill-opacity="0.214"/><rect x="1167" y="438" width="1" height="1312" fill-opacity="0.144"/><rect x="1175" y="438" width="1" height="1312" fill-opacity="0.224"/><rect x="1182" y="438" width="1" height="1312" fill-opacity="0.124"/><rect x="1190" y="438" width="1" height="1312" fill-opacity="0.233"/><rect x="1197" y="438" width="1" height="1312" fill-opacity="0.102"/><rect x="1205" y="438" width="1" height="1312" fill-opacity="0.240"/><rect x="1212" y="438" width="1" height="1312" fill-opacity="0.078"/><rect x="1220" y="438" width="1" height="1312" fill-opacity="0.245"/><rect x="1227" y="438" width="1" height="1312" fill-opacity="0.052"/><rect x="1235" y="438" width="1" height="1312" fill-opacity="0.248"/><rect x="1242" y="438" width="1" height="1312" fill-opacity="0.024"/><rect x="1250" y="438" width="1" height="1312" fill-opacity="0.250"/><rect x="1258" y="438" width="1" height="1312" fill-opacity="0.005"/><rect x="1265" y="438" width="1" height="1312" fill-opacity="0.250"/><rect x="1273" y="438" width="1" height="1312" fill-opacity="0.034"/><rect x="1280" y="438" width="1" height="1312" fill-opacity="0.248"/><rect x="1288" y="438" width="1" height="1312" fill-opacity="0.061"/><rect x="1295" y="438" width="1" height="1312" fill-opacity="0.244"/><rect x="1303" y="438" width="1" height="1312" fill-opacity="0.086"/><rect x="1310" y="438" width="1" height="1312" fill-opacity="0.238"/><rect x="1318" y="438" width="1" height="1312" fill-opacity="0.109"/><rect x="1325" y="438" width="1" height="1312" fill-opacity="0.230"/><rect x="1333" y="438" width="1" height="1312" fill-opacity="0.131"/><rect x="1340" y="438" width="1" height="1312" fill-opacity="0.221"/><rect x="1348" y="438" width="1" height="1312" fill-opacity="0.151"/><rect x="1355" y="438" width="1" height="1312" fill-opacity="0.210"/><rect x="1363" y="438" width="1" height="1312" fill-opacity="0.169"/><rect x="1370" y="438" width="1" height="1312" fill-opacity="0.197"/><rect x="1378" y="438" width="1" height="1312" fill-opacity="0.185"/><rect x="1385" y="438" width="1" height="1312" fill-opacity="0.182"/><rect x="1393" y="438" width="1" height="1312" fill-opacity="0.199"/><rect x="1400" y="438" width="1" height="1312" fill-opacity="0.166"/><rect x="1408" y="438" width="1" height="1312" fill-opacity="0.212"/><rect x="1415" y="438" width="1" height="1312" fill-opacity="0.148"/><rect x="1423" y="438" width="1" height="1312" fill-opacity="0.223"/><rect x="1430" y="438" width="1" height="1312" fill-opacity="0.128"/><rect x="1438" y="438" width="1" height="1312" fill-opacity="0.232"/><rect x="1445" y="438" width="1" height="1312" fill-opacity="0.106"/><rect x="1453" y="438" width="1" height="1312" fill-opacity="0.239"/><rect x="1460" y="438" width="1" height="1312" fill-opacity="0.082"/><rect x="1468" y="438" width="1" height="1312" fill-opacity="0.244"/><rect x="1475" y="438" width="1" height="1312" fill-opacity="0.056"/><rect x="1483" y="438" width="1" height="1312" fill-opacity="0.248"/><rect x="1490" y="438" width="1" height="1312" fill-opacity="0.029"/><rect x="1498" y="438" width="1" height="1312" fill-opacity="0.250"/><rect x="1513" y="438" width="1" height="1312" fill-opacity="0.250"/><rect x="1521" y="438" width="1" height="1312" fill-opacity="0.029"/><rect x="1528" y="438" width="1" height="1312" fill-opacity="0.248"/><rect x="1536" y="438" width="1" height="1312" fill-opacity="0.056"/><rect x="1543" y="438" width="1" height="1312" fill-opacity="0.244"/><rect x="1551" y="438" width="1" height="1312" fill-opacity="0.082"/><rect x="1558" y="438" width="1" height="1312" fill-opacity="0.239"/><rect x="1566" y="438" width="1" height="1312" fill-opacity="0.106"/><rect x="1573" y="438" width="1" height="1312" fill-opacity="0.232"/><rect x="1581" y="438" width="1" height="1312" fill-opacity="0.127"/><rect x="1588" y="438" width="1" height="1312" fill-opacity="0.223"/><rect x="1596" y="438" width="1" height="1312" fill-opacity="0.148"/><rect x="1603" y="438" width="1" height="1312" fill-opacity="0.212"/><rect x="1611" y="438" width="1" height="1312" fill-opacity="0.166"/><rect x="1618" y="438" width="1" height="1312" fill-opacity="0.199"/><rect x="1626" y="438" width="1" height="1312" fill-opacity="0.182"/><rect x="1633" y="438" width="1" height="1312" fill-opacity="0.185"/><rect x="1641" y="438" width="1" height="1312" fill-opacity="0.197"/><rect x="1648" y="438" width="1" height="1312" fill-opacity="0.169"/><rect x="1656" y="438" width="1" height="1312" fill-opacity="0.210"/><rect x="1663" y="438" width="1" height="1312" fill-opacity="0.151"/><rect x="1671" y="438" width="1" height="1312" fill-opacity="0.221"/><rect x="1678" y="438" width="1" height="1312" fill-opacity="0.131"/><rect x="1686" y="438" width="1" height="1312" fill-opacity="0.230"/><rect x="1693" y="438" width="1" height="1312" fill-opacity="0.109"/><rect x="204" y="440" width="1492" height="1" fill-opacity="0.248"/><rect x="204" y="457" width="1492" height="1" fill-opacity="0.247"/><rect x="204" y="466" width="1492" height="1" fill-opacity="0.095"/><rect x="204" y="474" width="1492" height="1" fill-opacity="0.225"/><rect x="204" y="483" width="1492" height="1" fill-opacity="0.166"/><rect x="204" y="491" width="1492" height="1" fill-opacity="0.182"/><rect x="204" y="500" width="1492" height="1" fill-opacity="0.215"/><rect x="204" y="508" width="1492" height="1" fill-opacity="0.117"/><rect x="204" y="517" width="1492" height="1" fill-opacity="0.243"/><rect x="204" y="525" width="1492" height="1" fill-opacity="0.031"/><rect x="204" y="534" width="1492" height="1" fill-opacity="0.250"/><rect x="204" y="543" width="1492" height="1" fill-opacity="0.067"/><rect x="204" y="551" width="1492" height="1" fill-opacity="0.235"/><rect x="204" y="560" width="1492" height="1" fill-opacity="0.144"/><rect x="204" y="568" width="1492" height="1" fill-opacity="0.199"/><rect x="204" y="577" width="1492" height="1" fill-opacity="0.201"/><rect x="204" y="585" width="1492" height="1" fill-opacity="0.141"/><rect x="204" y="594" width="1492" height="1" fill-opacity="0.236"/><rect x="204" y="602" width="1492" height="1" fill-opacity="0.062"/><rect x="204" y="611" width="1492" height="1" fill-opacity="0.250"/><rect x="204" y="620" width="1492" height="1" fill-opacity="0.035"/><rect x="204" y="628" width="1492" height="1" fill-opacity="0.242"/><rect x="204" y="637" width="1492" height="1" fill-opacity="0.120"/><rect x="204" y="645" width="1492" height="1" fill-opacity="0.213"/><rect x="204" y="654" width="1492" height="1" fill-opacity="0.184"/><rect x="204" y="662" width="1492" height="1" fill-opacity="0.163"/><rect x="204" y="671" width="1492" height="1" fill-opacity="0.226"/><rect x="204" y="679" width="1492" height="1" fill-opacity="0.091"/><rect x="204" y="688" width="1492" height="1" fill-opacity="0.248"/><rect x="204" y="705" width="1492" height="1" fill-opacity="0.247"/><rect x="204" y="714" width="1492" height="1" fill-opacity="0.094"/><rect x="204" y="722" width="1492" height="1" fill-opacity="0.225"/><rect x="204" y="731" width="1492" height="1" fill-opacity="0.165"/><rect x="204" y="739" width="1492" height="1" fill-opacity="0.182"/><rect x="204" y="748" width="1492" height="1" fill-opacity="0.215"/><rect x="204" y="756" width="1492" height="1" fill-opacity="0.118"/><rect x="204" y="765" width="1492" height="1" fill-opacity="0.243"/><rect x="204" y="773" width="1492" height="1" fill-opacity="0.032"/><rect x="204" y="782" width="1492" height="1" fill-opacity="0.250"/><rect x="204" y="791" width="1492" height="1" fill-opacity="0.065"/><rect x="204" y="799" width="1492" height="1" fill-opacity="0.235"/><rect x="204" y="808" width="1492" height="1" fill-opacity="0.143"/><rect x="204" y="816" width="1492" height="1" fill-opacity="0.199"/><rect x="204" y="825" width="1492" height="1" fill-opacity="0.200"/><rect x="204" y="833" width="1492" height="1" fill-opacity="0.142"/><rect x="204" y="842" width="1492" height="1" fill-opacity="0.236"/><rect x="204" y="850" width="1492" height="1" fill-opacity="0.064"/><rect x="204" y="859" width="1492" height="1" fill-opacity="0.250"/><rect x="204" y="868" width="1492" height="1" fill-opacity="0.034"/><rect x="204" y="876" width="1492" height="1" fill-opacity="0.242"/><rect x="204" y="885" width="1492" height="1" fill-opacity="0.119"/><rect x="204" y="893" width="1492" height="1" fill-opacity="0.214"/><rect x="204" y="902" width="1492" height="1" fill-opacity="0.183"/><rect x="204" y="910" width="1492" height="1" fill-opacity="0.164"/><rect x="204" y="919" width="1492" height="1" fill-opacity="0.226"/><rect x="204" y="927" width="1492" height="1" fill-opacity="0.093"/><rect x="204" y="936" width="1492" height="1" fill-opacity="0.247"/><rect x="204" y="953" width="1492" height="1" fill-opacity="0.247"/><rect x="204" y="962" width="1492" height="1" fill-opacity="0.093"/><rect x="204" y="970" width="1492" height="1" fill-opacity="0.226"/><rect x="204" y="979" width="1492" height="1" fill-opacity="0.164"/><rect x="204" y="987" width="1492" height="1" fill-opacity="0.183"/><rect x="204" y="996" width="1492" height="1" fill-opacity="0.214"/><rect x="204" y="1004" width="1492" height="1" fill-opacity="0.119"/><rect x="204" y="1013" width="1492" height="1" fill-opacity="0.242"/><rect x="204" y="1021" width="1492" height="1" fill-opacity="0.034"/><rect x="204" y="1030" width="1492" height="1" fill-opacity="0.250"/><rect x="204" y="1039" width="1492" height="1" fill-opacity="0.064"/><rect x="204" y="1047" width="1492" height="1" fill-opacity="0.236"/><rect x="204" y="1056" width="1492" height="1" fill-opacity="0.142"/><rect x="204" y="1064" width="1492" height="1" fill-opacity="0.200"/><rect x="204" y="1073" width="1492" height="1" fill-opacity="0.199"/><rect x="204" y="1081" width="1492" height="1" fill-opacity="0.143"/><rect x="204" y="1090" width="1492" height="1" fill-opacity="0.235"/><rect x="204" y="1098" width="1492" height="1" fill-opacity="0.065"/><rect x="204" y="1107" width="1492" height="1" fill-opacity="0.250"/><rect x="204" y="1116" width="1492" height="1" fill-opacity="0.032"/><rect x="204" y="1124" width="1492" height="1" fill-opacity="0.243"/><rect x="204" y="1133" width="1492" height="1" fill-opacity="0.118"/><rect x="204" y="1141" width="1492" height="1" fill-opacity="0.215"/><rect x="204" y="1150" width="1492" height="1" fill-opacity="0.182"/><rect x="204" y="1158" width="1492" height="1" fill-opacity="0.165"/><rect x="204" y="1167" width="1492" height="1" fill-opacity="0.225"/><rect x="204" y="1175" width="1492" height="1" fill-opacity="0.094"/><rect x="204" y="1184" width="1492" height="1" fill-opacity="0.247"/><rect x="204" y="1201" width="1492" height="1" fill-opacity="0.247"/><rect x="204" y="1210" width="1492" height="1" fill-opacity="0.091"/><rect x="204" y="1218" width="1492" height="1" fill-opacity="0.226"/><rect x="204" y="1227" width="1492" height="1" fill-opacity="0.163"/><rect x="204" y="1235" width="1492" height="1" fill-opacity="0.184"/><rect x="204" y="1244" width="1492" height="1" fill-opacity="0.213"/><rect x="204" y="1252" width="1492" height="1" fill-opacity="0.120"/><rect x="204" y="1261" width="1492" height="1" fill-opacity="0.242"/><rect x="204" y="1269" width="1492" height="1" fill-opacity="0.035"/><rect x="204" y="1278" width="1492" height="1" fill-opacity="0.250"/><rect x="204" y="1287" width="1492" height="1" fill-opacity="0.062"/><rect x="204" y="1295" width="1492" height="1" fill-opacity="0.236"/><rect x="204" y="1304" width="1492" height="1" fill-opacity="0.141"/><rect x="204" y="1312" width="1492" height="1" fill-opacity="0.201"/><rect x="204" y="1321" width="1492" height="1" fill-opacity="0.199"/><rect x="204" y="1329" width="1492" height="1" fill-opacity="0.144"/><rect x="204" y="1338" width="1492" height="1" fill-opacity="0.235"/><rect x="204" y="1346" width="1492" height="1" fill-opacity="0.067"/><rect x="204" y="1355" width="1492" height="1" fill-opacity="0.250"/><rect x="204" y="1364" width="1492" height="1" fill-opacity="0.031"/><rect x="204" y="1372" width="1492" height="1" fill-opacity="0.243"/><rect x="204" y="1381" width="1492" height="1" fill-opacity="0.117"/><rect x="204" y="1389" width="1492" height="1" fill-opacity="0.215"/><rect x="204" y="1398" width="1492" height="1" fill-opacity="0.182"/><rect x="204" y="1406" width="1492" height="1" fill-opacity="0.166"/><rect x="204" y="1415" width="1492" height="1" fill-opacity="0.225"/><rect x="204" y="1423" width="1492" height="1" fill-opacity="0.095"/><rect x="204" y="1432" width="1492" height="1" fill-opacity="0.247"/><rect x="204" y="1449" width="1492" height="1" fill-opacity="0.248"/><rect x="204" y="1458" width="1492" height="1" fill-opacity="0.090"/><rect x="204" y="1466" width="1492" height="1" fill-opacity="0.227"/><rect x="204" y="1475" width="1492" height="1" fill-opacity="0.162"/><rect x="204" y="1483" width="1492" height="1" fill-opacity="0.185"/><rect x="204" y="1492" width="1492" height="1" fill-opacity="0.213"/><rect x="204" y="1500" width="1492" height="1" fill-opacity="0.122"/><rect x="204" y="1509" width="1492" height="1" fill-opacity="0.242"/><rect x="204" y="1517" width="1492" height="1" fill-opacity="0.037"/><rect x="204" y="1526" width="1492" height="1" fill-opacity="0.250"/><rect x="204" y="1535" width="1492" height="1" fill-opacity="0.061"/><rect x="204" y="1543" width="1492" height="1" fill-opacity="0.236"/><rect x="204" y="1552" width="1492" height="1" fill-opacity="0.140"/><rect x="204" y="1560" width="1492" height="1" fill-opacity="0.202"/><rect x="204" y="1569" width="1492" height="1" fill-opacity="0.198"/><rect x="204" y="1577" width="1492" height="1" fill-opacity="0.145"/><rect x="204" y="1586" width="1492" height="1" fill-opacity="0.234"/><rect x="204" y="1594" width="1492" height="1" fill-opacity="0.068"/><rect x="204" y="1603" width="1492" height="1" fill-opacity="0.250"/><rect x="204" y="1612" width="1492" height="1" fill-opacity="0.029"/><rect x="204" y="1620" width="1492" height="1" fill-opacity="0.243"/><rect x="204" y="1629" width="1492" height="1" fill-opacity="0.116"/><rect x="204" y="1637" width="1492" height="1" fill-opacity="0.216"/><rect x="204" y="1646" width="1492" height="1" fill-opacity="0.181"/><rect x="204" y="1654" width="1492" height="1" fill-opacity="0.167"/><rect x="204" y="1663" width="1492" height="1" fill-opacity="0.224"/><rect x="204" y="1671" width="1492" height="1" fill-opacity="0.097"/><rect x="204" y="1680" width="1492" height="1" fill-opacity="0.247"/><rect x="204" y="1688" width="1492" height="1" fill-opacity="0.005"/><rect x="204" y="1697" width="1492" height="1" fill-opacity="0.248"/><rect x="204" y="1706" width="1492" height="1" fill-opacity="0.089"/><rect x="204" y="1714" width="1492" height="1" fill-opacity="0.227"/><rect x="204" y="1723" width="1492" height="1" fill-opacity="0.161"/><rect x="204" y="1731" width="1492" height="1" fill-opacity="0.186"/><rect x="204" y="1740" width="1492" height="1" fill-opacity="0.212"/><rect x="204" y="1748" width="1492" height="1" fill-opacity="0.123"/></g>
<!-- axis ticks -->
<g stroke="#333333" stroke-width="4.45" fill="none">
<path d="M528.9 1814.5v11.5M979.8 1814.5v11.5M1430.7 1814.5v11.5"/>
<path d="M131 431.9h-11.5M131 637.1h-11.5M131 842.4h-11.5M131 1047.6h-11.5M131 1252.9h-11.5M131 1458.1h-11.5M131 1663.4h-11.5"/>
</g>
<!-- axis labels -->
<g font-size="37.5" fill="#4D4D4D">
<g text-anchor="middle">
<text x="529" y="1861.5" textLength="85" lengthAdjust="spacingAndGlyphs">20°E</text>
<text x="980" y="1861.5" textLength="85" lengthAdjust="spacingAndGlyphs">25°E</text>
<text x="1431" y="1861.5" textLength="85" lengthAdjust="spacingAndGlyphs">30°E</text>
</g>
<g text-anchor="end">
<text x="109.5" y="445.3" textLength="85" lengthAdjust="spacingAndGlyphs">22°S</text>
<text x="109.5" y="650.5" textLength="85" lengthAdjust="spacingAndGlyphs">24°S</text>
<text x="109.5" y="855.8" textLength="85" lengthAdjust="spacingAndGlyphs">26°S</text>
<text x="109.5" y="1061.0" textLength="85" lengthAdjust="spacingAndGlyphs">28°S</text>
<text x="109.5" y="1266.3" textLength="85" lengthAdjust="spacingAndGlyphs">30°S</text>
<text x="109.5" y="1471.5" textLength="85" lengthAdjust="spacingAndGlyphs">32°S</text>
<text x="109.5" y="1676.8" textLength="85" lengthAdjust="spacingAndGlyphs">34°S</text>
</g>
</g>
<!-- legend -->
<text x="1838" y="920" font-size="47" fill="#000" textLength="213" lengthAdjust="spacingAndGlyphs">real_occu</text>
<rect x="1837" y="948" width="72" height="359" fill="url(#vir)"/>
<g stroke="#FFFFFF" stroke-width="1.6" fill="none">
<path d="M1837 1037.5h14.4M1894.6 1037.5h14.4M1837 1127h14.4M1894.6 1127h14.4M1837 1217h14.4M1894.6 1217h14.4M1837 948.4h14.4M1894.6 948.4h14.4M1837 1306.5h14.4M1894.6 1306.5h14.4"/>
</g>
<g font-size="37.5" fill="#000">
<text x="1935" y="961.5" textLength="76" lengthAdjust="spacingAndGlyphs">1.00</text>
<text x="1935" y="1050.8" textLength="76" lengthAdjust="spacingAndGlyphs">0.75</text>
<text x="1935" y="1140.3" textLength="76" lengthAdjust="spacingAndGlyphs">0.50</text>
<text x="1935" y="1230.3" textLength="76" lengthAdjust="spacingAndGlyphs">0.25</text>
<text x="1935" y="1320" textLength="76" lengthAdjust="spacingAndGlyphs">0.00</text>
</g>
</svg>
</body></html>
